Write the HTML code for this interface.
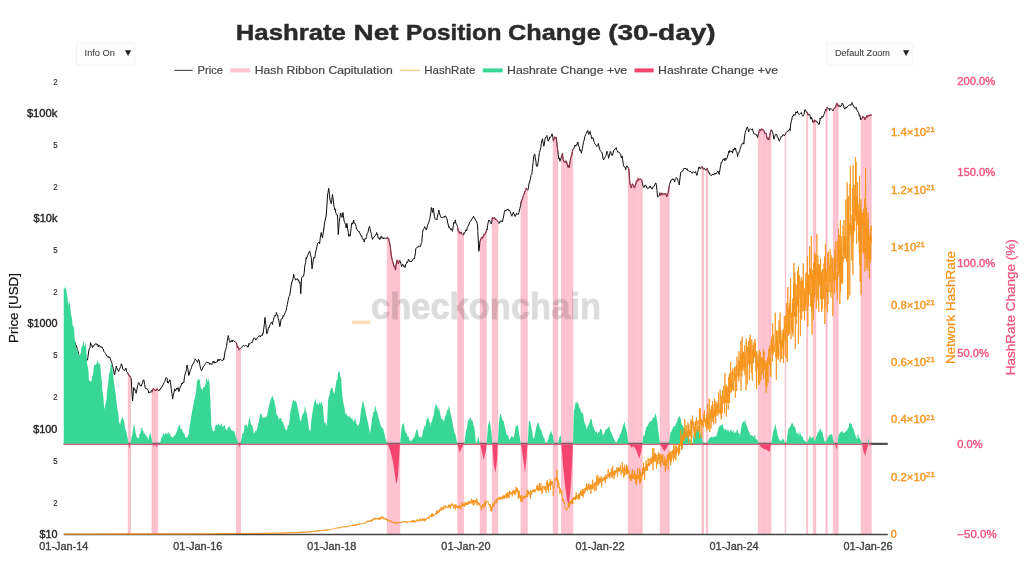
<!DOCTYPE html>
<html><head><meta charset="utf-8"><title>Hashrate Net Position Change (30-day)</title>
<style>html,body{margin:0;padding:0;background:#fff;width:1024px;height:580px;overflow:hidden}svg{display:block;will-change:transform}svg text{font-family:"Liberation Sans",sans-serif}</style></head>
<body>
<svg width="1024" height="580" viewBox="0 0 1024 580" font-family="Liberation Sans, sans-serif">
<rect width="1024" height="580" fill="#fff"/>
<g id="bands" fill="#fdc3d0" fill-opacity="1" stroke="#fbaec1" stroke-width="0.6">
<polygon points="128.25,373.75 128.75,375 130.5,377.62 130.5,534.4 128.25,534.4"/>
<polygon points="152,390.27 153.75,388.75 154.25,388.98 154.25,534.4 152,534.4"/>
<polygon points="154.75,389.2 157.75,390.55 157.75,534.4 154.75,534.4"/>
<polygon points="236.5,343.5 237.5,347.5 240,348.75 240.5,348.32 240.5,534.4 236.5,534.4"/>
<polygon points="387.25,238.75 388.75,238.75 390,245 391.25,255 392.5,261.25 394.25,266.25 395.5,270 397,260 398.25,263.75 399.5,260 399.75,260.64 399.75,534.4 387.25,534.4"/>
<polygon points="457.75,227.68 458.75,231.25 460.25,232.3 460.25,534.4 457.75,534.4"/>
<polygon points="460.75,232.65 461.25,233 463.5,234.8 463.5,534.4 460.75,534.4"/>
<polygon points="480.25,240.72 482,237 484.5,235 486.25,231.5 486.25,534.4 480.25,534.4"/>
<polygon points="492.25,218.64 492.5,218 495,218 496.25,220 497.75,221.5 497.75,534.4 492.25,534.4"/>
<polygon points="521,203.5 521.25,202.5 523.75,195 526.25,188 527.25,189.14 527.25,534.4 521,534.4"/>
<polygon points="553.25,140 554.5,138 554.75,137.93 554.75,534.4 553.25,534.4"/>
<polygon points="555.25,137.79 556.25,137.5 557.5,148.75 557.75,150.75 557.75,534.4 555.25,534.4"/>
<polygon points="561.5,156.6 562.5,155 563.75,161.25 566.25,161.25 567.5,165 569.25,167.5 570.75,157.5 572.5,151.25 572.75,150.72 572.75,534.4 561.5,534.4"/>
<polygon points="628.25,167.75 628.75,168.75 630,183.75 631.25,188 633,185 634.25,186.67 634.25,534.4 628.25,534.4"/>
<polygon points="634.75,186.18 636.25,181.25 638,180 640,178.75 642,181.25 642.25,182.14 642.25,534.4 634.75,534.4"/>
<polygon points="660.25,194.69 662.5,193.75 665,194.5 668,193.75 669.25,186.46 669.25,534.4 660.25,534.4"/>
<polygon points="702,167.53 703.5,168.57 703.5,534.4 702,534.4"/>
<polygon points="706.5,169.3 707.5,169.5 707.75,170.03 707.75,534.4 706.5,534.4"/>
<polygon points="758.25,134.69 759.5,130 761.25,129.5 763,130 764.25,132.34 764.25,534.4 758.25,534.4"/>
<polygon points="764.75,133.28 765,133.75 767,137.5 768.75,140 771,131 771,534.4 764.75,534.4"/>
<polygon points="785.25,133.93 785.5,133.75 785.75,133.44 785.75,534.4 785.25,534.4"/>
<polygon points="806.65,111.98 807.5,113 807.65,113.11 807.65,534.4 806.65,534.4"/>
<polygon points="813.35,121.92 814.5,120 815.75,120.89 815.75,534.4 813.35,534.4"/>
<polygon points="825.95,109.55 827.15,108.35 827.15,534.4 825.95,534.4"/>
<polygon points="833.25,110.12 835,107.5 837,104.5 838.15,105.16 838.15,534.4 833.25,534.4"/>
<polygon points="861.15,119.31 861.25,119.5 863,117.5 865,118.75 867,117 867.15,116.94 867.15,534.4 861.15,534.4"/>
<polygon points="867.65,116.72 868.75,116.25 870.75,114.5 871.25,115 871.25,534.4 867.65,534.4"/>
</g>
<g id="wm"><rect x="352" y="320.5" width="18.5" height="3.6" fill="#f7931a" fill-opacity="0.3"/><g opacity="0.135"><text x="371" y="318.8" font-size="36" font-weight="bold" fill="#000" stroke="#000" stroke-width="0.9" textLength="230" lengthAdjust="spacingAndGlyphs">checkonchain</text></g></g>
<polyline id="price" fill="none" stroke="#0a0a0a" stroke-width="1.0" stroke-linejoin="round" points="64.8,329.96 64.8,331 65.5,329.57 66,328 66.2,328.55 66.9,326.21 67.6,324.47 68,325 68.3,325.69 69,327.91 69.7,330.18 70,330 70.4,330.17 71.1,332.2 71.8,336 72,336 72.5,337.4 73.2,339.7 73.9,340.64 74,340 74.6,341.41 75,342.5 75.3,342.99 76,347.08 76.25,345.5 76.7,346.96 77.4,349.2 78.1,351.56 78.75,355 78.8,355.23 79.5,357.37 80,358.75 80.2,357.78 80.9,355.66 81.6,353.58 82,352 82.3,353.19 83,354.93 83.7,355.58 84,356 84.4,355.68 85.1,359.9 85.8,360.19 86,362 86.5,361.19 87.2,359.15 87.5,360 87.9,357.34 88.6,352 89,350 89.3,348.68 90,347.81 90.5,342.5 90.7,342.96 91.4,345.47 92.1,345.38 92.5,347.5 92.8,346.81 93.5,346.56 94.2,344.87 94.9,344.21 95,343.75 95.6,344.12 96.3,343.5 97,345.16 97.7,344.32 98.4,346.93 98.75,345.5 99.1,345.26 99.8,346.64 100.5,346.44 101.2,347.62 101.9,346.67 102.5,347.5 102.6,348.55 103.3,348.99 104,351.57 104.7,352.43 105.4,353.42 106.1,354.04 106.25,355 106.8,356.02 107.5,356.23 108.2,357.7 108.9,356.45 109.6,357.7 110,357.5 110.3,358.79 111,360.6 111.7,362.53 111.75,362.5 112.4,365.61 113.1,368.13 113.8,370.96 114.5,375 114.5,374.66 115.2,371.9 115.9,369.08 116.25,366 116.6,367.53 117.3,369 118,370.16 118.7,371.49 118.75,371 119.4,369.27 120.1,367.74 120.8,366.56 121.25,363.75 121.5,364.1 122.2,365.54 122.9,369.54 123.6,369.83 123.75,370 124.3,370.55 125,370.12 125.7,368.06 126.25,368.75 126.4,371.19 127.1,372.38 127.8,372.78 128.5,375.01 128.75,375 129.2,375.78 129.9,375.97 130.6,377.68 131.25,378.75 131.3,379.96 132,393.05 132.5,401 132.7,399.44 133.4,391.33 133.75,387.5 134.1,389.35 134.8,388.95 135.5,391.67 136.2,393.35 136.25,392.5 136.9,389.65 137.6,385.58 138.3,383.53 138.75,382.5 139,383.05 139.7,384.28 140.4,386.13 141.1,384.94 141.25,386 141.8,384.35 142.5,382.8 143.2,380.02 143.25,380 143.9,379.88 144.6,384.62 145.3,387.94 146,388.87 146.25,388.75 146.7,388.36 147.4,389.4 148.1,390.54 148.8,393.08 149.5,392.09 150,392 150.2,391.92 150.9,392.54 151.6,390.54 152.3,391.59 153,388.82 153.7,388.39 153.75,388.75 154.4,389.66 155.1,390.57 155.8,390.23 156.5,390.24 157.2,388.75 157.9,390.01 158.6,390.41 158.75,391 159.3,389.81 160,389.83 160.7,388.12 161.4,388.14 162.1,386.6 162.5,386 162.8,385.04 163.5,383.83 164.2,382.51 164.9,381.29 165.6,378.57 166.25,377.5 166.3,377.45 167,378.48 167.7,383.01 168,382.5 168.4,383.23 169.1,380.97 169.8,379.84 170,380 170.5,382.45 171.2,388.54 171.9,393.48 172.5,397.5 172.6,399.05 173.3,395.31 174,392.34 174.7,388.82 175,390 175.4,391.06 176.1,389.79 176.8,388.03 177.5,389.32 178.2,387.57 178.75,388.75 178.9,391.52 179.6,388.64 180.3,387.3 181,385.79 181.7,383.24 182.4,384.08 183.1,381.99 183.75,382.5 183.8,382.74 184.5,376.64 185.2,373.92 185.9,371.96 186.6,368.55 187,365 187.3,365.71 188,369.41 188.7,375.46 188.75,375 189.4,374.1 190.1,370.79 190.8,369.28 191.25,368.75 191.5,367.49 192.2,365.21 192.9,363.77 193.6,363.55 194.3,361.2 195,360.5 195,358.75 195.7,359.73 196.4,360.73 197.1,361.06 197.5,362.5 197.8,361.79 198.5,359.38 198.75,360 199.2,360.29 199.9,365.19 200.6,368.62 201.25,370 201.3,370.64 202,370.01 202.7,368.04 203.4,366.16 203.75,366.25 204.1,365.97 204.8,364.88 205.5,363.56 206.2,362.36 206.9,361.84 207.5,362.5 207.6,362.53 208.3,362.89 209,362.6 209.7,364.45 210.4,363.62 211.1,364.2 211.25,363.75 211.8,364.53 212.5,362.47 213.2,361.17 213.9,363.15 214.6,361.6 215,362 215.3,362.99 216,361.89 216.7,362.18 217.4,361.69 218.1,358.99 218.8,361.09 219.5,359.63 220,360 220.2,359.33 220.9,359.51 221.6,360.44 222.3,360.45 223,360.46 223.7,358.1 223.75,359.5 224.4,355.88 225.1,351 225.8,349.57 226.25,347.5 226.5,346.51 227.2,341.15 227.9,337.81 228.25,335.5 228.6,337.1 229.3,340.56 230,341.8 230,342.5 230.7,341.1 231.4,340.45 232.1,341.89 232.5,340 232.8,341.13 233.5,340.56 234.2,341.33 234.9,341.7 235.6,342.24 236.25,342.5 236.3,342.52 237,345.22 237.5,347.5 237.7,346.53 238.4,347.4 239.1,349.7 239.8,349.11 240,348.75 240.5,348.37 241.2,347.53 241.9,347.16 242.6,346.8 243.3,345.34 243.75,345.5 244,345.77 244.7,346.08 245.4,345.52 246.1,345.77 246.8,345.87 247.5,346.1 247.5,347 248.2,346.95 248.9,343.38 249.6,344.36 250.3,343.26 251,342.45 251.7,342.25 252.4,342.32 252.5,341.25 253.1,339.75 253.75,338 253.8,337.91 254.5,337.93 255.2,338.76 255.9,340.07 256.25,339.5 256.6,338.86 257.3,337.62 258,336.91 258.7,336.44 259.4,335.59 260,336.25 260.1,337.1 260.8,335.89 261.5,334.8 262.2,335.66 262.9,333.27 263,333.75 263.6,329.89 264.3,324.68 265,317.44 265,318.75 265.7,323.43 266.4,329.96 266.75,333.75 267.1,333.43 267.8,331.57 268.5,327.24 268.75,327.5 269.2,327.49 269.9,324.87 270.6,323.47 271.25,322.5 271.3,322.11 272,323.42 272.5,324.5 272.7,322.19 273.4,320.23 274.1,317.37 274.8,316.18 275,315 275.5,315.78 276.2,314.92 276.25,312.5 276.9,314.07 277.6,314.89 278,317.5 278.3,318.47 279,321.08 279.7,326.62 280,326.25 280.4,324.34 281.1,319.03 281.25,318.75 281.8,319 282.5,317.96 283.2,315.42 283.75,316.25 283.9,315.42 284.6,313.92 285.3,312.39 286,310.74 286.25,310 286.7,307.46 287.4,304.41 288.1,300.25 288.75,297.5 288.8,296.56 289.5,296.09 290,293 290.2,292.03 290.9,287.61 291.25,285 291.6,282.48 292,282.5 292.3,281.07 293,278.91 293.7,274.12 293.75,275 294.4,277.79 295.1,278.53 295.5,280 295.8,280.15 296.5,279.26 297.2,279.12 297.5,278.75 297.9,280.37 298.6,280.06 299.3,282.78 300,281.84 300,282.5 300.7,292.21 300.75,293.75 301.4,281.35 301.5,278.75 302.1,276.84 302.8,276.27 303.5,276.19 303.75,275 304.2,272.88 304.9,265.44 305.6,262.48 306.25,257.5 306.3,259.03 307,257.44 307.7,255.22 308,255 308.4,253.49 309.1,252 309.5,251.25 309.8,251.34 310.5,254.6 311.2,257.16 311.25,257.5 311.9,267.13 312,268.75 312.6,265.56 313.25,260 313.3,259.7 314,257.15 314.7,257.79 315,256.25 315.4,253.34 316.1,250.37 316.8,247.14 317.5,243.46 317.5,243.75 318.2,242.46 318.9,242.66 319.5,242.5 319.6,243.79 320.3,237.41 321,233.81 321.25,232.5 321.7,235.26 322.4,237.73 322.5,237.5 323.1,233.95 323.75,228.75 323.8,229.21 324.5,222.95 325.2,220.04 325.9,217.03 326.25,215 326.6,209.82 327.3,199.3 327.5,195 328,192.7 328.7,188.32 328.75,188.25 329.4,194.39 330,200 330.1,200.12 330.8,202.61 331.25,203.75 331.5,202.47 332.2,196.43 332.5,194.5 332.9,197.17 333.6,203.01 333.75,205 334.3,207.58 335,209.84 335,208.75 335.7,212.39 336.25,213.75 336.4,214.63 337.1,215.31 337.5,215 337.8,222.8 338.25,234.5 338.5,232.16 339.2,222.59 339.5,220 339.9,217.59 340.6,213.22 340.75,213 341.3,215.6 342,217.01 342,217.5 342.7,213.91 343,212.5 343.4,215.51 344.1,220.98 344.5,222.5 344.8,222.68 345.5,224.56 346.2,228.05 346.25,227.5 346.9,223.31 347,223.75 347.6,228.42 348.3,232.55 348.75,236.25 349,236.16 349.7,234.7 350,236.25 350.4,234 351.1,227.97 351.75,223.75 351.8,222.89 352.5,224.11 353.2,221.64 353.75,220 353.9,223.41 354.6,222.78 355.3,224.13 355.5,225 356,226.34 356.7,229.37 357.4,229.73 357.5,230 358.1,231.13 358.8,232.06 359.5,231.73 359.5,232.5 360.2,234.11 360.9,235.07 361.25,236.25 361.6,235.69 362.3,238.49 363,239.32 363,238.75 363.7,240.63 364.25,242 364.4,240.89 365.1,238.38 365.8,238.93 366.25,237.5 366.5,236.7 367.2,233.35 367.9,232.73 368,232.5 368.6,228.71 369.3,227.06 369.5,226.25 370,228.51 370.7,231.69 371.25,233.75 371.4,234.62 372.1,237.81 372.5,239.5 372.8,238.14 373.5,237.87 374.2,236.86 374.9,236.18 375,236.25 375.6,235.19 376.3,233.99 376.75,232.5 377,234.99 377.7,234.5 378,238 378.4,238.28 379.1,237.66 379.8,239.66 380.5,238.41 381.2,236.1 381.25,237.5 381.9,238.06 382.6,237.51 383.3,239.03 384,237.52 384.7,238.56 385,238.75 385.4,238.64 386.1,238.67 386.8,238.25 387.5,237.19 388.2,239.14 388.75,238.75 388.9,240.35 389.6,242.94 390,245 390.3,246.54 391,253.17 391.25,255 391.7,257.73 392.4,260.6 392.5,261.25 393.1,262.95 393.8,266.16 394.25,266.25 394.5,266.05 395.2,268.63 395.5,270 395.9,265.71 396.6,262.07 397,260 397.3,260.27 398,262.18 398.25,263.75 398.7,261.81 399.4,261.83 399.5,260 400.1,261.38 400.8,263.25 401.25,264.5 401.5,266.56 402.2,265.18 402.9,264.3 403.6,266.65 404.3,266.05 404.5,267 405,267.64 405.7,264.14 406.4,263.66 407.1,261.74 407.5,262.5 407.8,261.86 408.5,259.24 408.75,259.5 409.2,260.34 409.9,261.48 410,262 410.6,261 411.3,261.76 412,261.2 412.5,260 412.7,259.93 413.4,258.67 414.1,258.09 414.5,258.75 414.8,256.58 415.5,252.78 415.75,248.75 416.2,248.11 416.9,247.44 417.6,247.13 418,247.5 418.3,246.38 419,246.05 419.7,246.26 420,246.25 420.4,246.61 421.1,243.89 421.75,242.5 421.8,241.57 422.5,233.63 423,230 423.2,229.85 423.9,228.48 424.5,227.5 424.6,226.6 425.3,227.72 426,229.61 426.25,230 426.7,229.06 427.4,225.93 427.5,225 428.1,223.97 428.75,222.5 428.8,222.03 429.5,219.77 430,217.5 430.2,215.89 430.9,212.15 431.25,207.5 431.6,207.94 432.3,211.39 432.5,212.5 433,210.58 433.25,208 433.7,210.54 434.4,216.28 435,218.75 435.1,218.78 435.8,219.37 436.5,219.37 437,220 437.2,217.68 437.9,214.03 438.6,212.74 438.75,210 439.3,212.51 440,214.98 440.5,216.25 440.7,217.19 441.4,217.3 442.1,218.12 442.5,217.5 442.8,217.12 443.5,216.81 444.2,217.49 444.9,216 445,216.25 445.6,215.87 446.3,217.68 447,218.29 447,218.75 447.7,222.77 448.4,225.14 448.75,227.5 449.1,226.77 449.8,227.74 450.5,229.69 451.2,228.68 451.25,228.75 451.9,230.19 452.5,231.25 452.6,230.56 453.3,225.9 453.75,222.5 454,223.11 454.7,223.01 455.4,219.92 455.5,221.25 456.1,223.91 456.8,224.5 457,225 457.5,226.51 458.2,231.32 458.75,231.25 458.9,231.21 459.6,233.5 460.3,233.16 461,231.95 461.25,233 461.7,233.78 462.4,234.55 463.1,234.37 463.75,235 463.8,232.92 464.5,233.21 465.2,231.94 465.9,229.76 466.25,230 466.6,230.85 467.3,227.69 468,226.17 468.7,224.85 468.75,225 469.4,223.03 470.1,221.64 470.8,220.98 471.25,220 471.5,219.97 472.2,218.43 472.9,217.94 473.6,216 473.75,217 474.3,218.38 475,218.49 475.7,220.5 476.25,221.25 476.4,220.93 477.1,223.36 477.5,225 477.8,231.48 478.5,244.97 478.75,251.25 479.2,249.75 479.9,242.02 480,241.25 480.6,239.91 481.3,237.86 482,238.36 482,237 482.7,237.62 483.4,236.13 484.1,234.16 484.5,235 484.8,233.97 485.5,233.52 486.2,231.16 486.9,229.19 487,230 487.6,225.56 488.3,221.92 488.75,220 489,220.32 489.7,220.64 490.4,222.08 490.75,222.5 491.1,223.97 491.8,221.31 492.5,217.12 492.5,218 493.2,218.29 493.9,218.07 494.6,217.88 495,218 495.3,219.37 496,219.32 496.25,220 496.7,220.17 497.4,220.83 498.1,221.76 498.75,222.5 498.8,223.58 499.5,222.91 500.2,220.88 500.9,221.41 501.6,220.87 502.3,222.01 502.5,221.25 503,218.94 503.7,216.01 504.25,212.5 504.4,212.28 505.1,209.95 505.8,211.19 506.5,210.24 507,209.5 507.2,210.05 507.9,208.92 508.6,210.5 509.3,210.26 510,210.67 510,211.25 510.7,213.3 511.4,215.05 512,216.25 512.1,215.35 512.8,213.65 513.5,212 513.75,213.75 514.2,213.9 514.9,216.35 515.5,216.25 515.6,216.09 516.3,213.41 517,213.79 517.7,214.07 518.4,214.33 518.75,212.5 519.1,212.09 519.8,208.61 520.5,205.67 521.2,201.8 521.25,202.5 521.9,200.17 522.6,198.17 523.3,195.69 523.75,195 524,194.35 524.7,192.01 525.4,190.67 526.1,189.64 526.25,188 526.8,189.26 527.5,189.78 528,190 528.2,188.8 528.9,184.21 529.6,181.9 530,180 530.3,179.34 531,175.39 531.7,174.69 532,172.5 532.4,168.5 533.1,162.6 533.75,156.25 533.8,155.9 534.5,154.13 535,154.5 535.2,157.94 535.9,161.07 536.25,165 536.6,166.13 537.3,165.58 537.5,166.25 538,163.05 538.7,157.32 539.4,152.83 539.5,152.5 540.1,150.28 540.8,147.65 541.25,143.75 541.5,142.03 542.2,139.96 542.5,138.75 542.9,141.96 543.6,144.81 543.75,146.25 544.3,144.1 545,139.33 545.5,137.5 545.7,137.75 546.4,136.67 547,135.5 547.1,136.99 547.8,139.49 548.25,141.25 548.5,139.7 549.2,139.78 549.9,136.78 550,137.5 550.6,137.01 551.3,136.35 552,134.26 552,133.75 552.7,136.78 553.25,140 553.4,140.77 554.1,138.78 554.5,138 554.8,136.86 555.5,137.41 556.2,138.72 556.25,137.5 556.9,143.09 557.5,148.75 557.6,149.65 558.3,154.86 558.75,158.75 559,157.82 559.7,160.22 560,161.25 560.4,160.19 561.1,157.69 561.25,157 561.8,155.97 562.5,153.19 562.5,155 563.2,159.54 563.75,161.25 563.9,161.86 564.6,162.12 565.3,162.36 566,160.87 566.25,161.25 566.7,162.09 567.4,164.97 567.5,165 568.1,167.28 568.8,165.42 569.25,167.5 569.5,165.64 570.2,160.56 570.75,157.5 570.9,157.44 571.6,155.71 572.3,151.71 572.5,151.25 573,149.13 573.7,148.74 574.4,146.97 574.5,147 575.1,145 575.8,146.27 576.25,145 576.5,144.27 577.2,144.5 577.9,142 578,143 578.6,146.23 579.3,146.76 579.5,148.75 580,150.72 580.7,149.78 581.25,152.5 581.4,153.22 582.1,149.63 582.5,148.75 582.8,145.63 583.5,142.55 583.75,141.25 584.2,139.93 584.9,136.3 585.5,135 585.6,134.38 586.3,133.63 587,131.86 587,132 587.7,130.39 588.4,133.63 588.75,134.5 589.1,133.95 589.8,132.02 590,131.25 590.5,134.11 591.2,135.46 591.25,136.25 591.9,138.88 592.6,137.89 593,137.5 593.3,138.77 594,141.76 594.5,142.5 594.7,143.74 595.4,144.52 596.1,145.4 596.25,146.25 596.8,146.57 597.5,145.36 598,144.5 598.2,143.44 598.9,146.04 599.6,149.3 600,150 600.3,150.47 601,151.49 601.7,152.67 602,152.5 602.4,154.34 603.1,158.56 603.75,160 603.8,159.39 604.5,158.05 605.2,157.17 605.5,156.25 605.9,155.55 606.6,153.25 607,151.25 607.3,153.59 608,154.42 608.7,158.31 608.75,157.5 609.4,155.58 610.1,151.79 610.5,151.25 610.8,151.77 611.5,155.15 612.2,155.53 612.5,155.5 612.9,154 613.6,150.44 614.3,149.92 614.5,150 615,148.69 615.7,148.35 616.25,147.5 616.4,149.89 617.1,150.56 617.8,152.19 618,152.5 618.5,152.02 619.2,152.24 619.9,153.51 620,153.75 620.6,154.1 621.3,157.93 622,156.25 622,155.91 622.7,159.73 623.4,165.21 623.75,166.25 624.1,166.82 624.8,166.7 625.5,168.75 625.5,169.85 626.2,167.61 626.9,165.87 627.5,166.25 627.6,166.72 628.3,168.26 628.75,168.75 629,171.46 629.7,180.74 630,183.75 630.4,185.81 631.1,186.74 631.25,188 631.8,185.31 632.5,183.82 633,185 633.2,185.16 633.9,187.25 634.5,187 634.6,187.52 635.3,185.55 636,183.65 636.25,181.25 636.7,180.94 637.4,181.33 638,180 638.1,178.64 638.8,180.09 639.5,179.4 640,178.75 640.2,178.92 640.9,179.5 641.6,179.8 642,181.25 642.3,182.44 643,185.91 643.7,187.01 643.75,187.5 644.4,187.02 645.1,185.01 645.5,185 645.8,185.78 646.5,186.02 647.2,188.51 647.5,188.75 647.9,188.28 648.6,188.25 649.3,186.97 650,187 650,186 650.7,187 651.4,188.44 652.1,189.18 652.5,188 652.8,187.27 653.5,187.18 654.2,186.09 654.5,185 654.9,185.05 655.6,182.9 656.25,183.75 656.3,184.53 657,190.43 657.5,196.25 657.7,197.12 658.4,196.36 659.1,195.77 659.5,195 659.8,192.72 660.5,195.11 661.2,194.89 661.9,192.91 662.5,193.75 662.6,194.6 663.3,194.05 664,194.04 664.7,193.8 665,194.5 665.4,193.53 666.1,193.86 666.8,196.67 667.5,194.05 668,193.75 668.2,192.76 668.9,187.95 669.5,185 669.6,184.19 670.3,182.25 671,179.96 671.25,180 671.7,180.42 672.4,178.95 673,178.75 673.1,179.65 673.8,179.1 674.5,181.25 674.5,182.04 675.2,179.73 675.9,178.82 676.25,177.5 676.6,178.01 677.3,178.55 678,180.5 678,181.53 678.7,182.65 679.25,185 679.4,183.62 680.1,177.16 680.75,172.5 680.8,172.63 681.5,171.5 682.2,171.45 682.9,170.88 683,170.5 683.6,169.31 684.3,168 685,168.87 685.5,168 685.7,168.98 686.4,169.49 687.1,168.63 687.5,170 687.8,170.66 688.5,170.83 689.2,171.09 689.9,171.57 690,171.25 690.6,171.39 691.3,172.34 692,173.44 692.5,173 692.7,172.53 693.4,171.6 694.1,172.59 694.8,172.71 695,172.5 695.5,171.56 696.2,173.42 696.9,175.38 697,175 697.6,172.47 698.3,169.88 698.75,168 699,166.83 699.7,168.39 700.4,168.83 701.1,166.89 701.25,167 701.8,166.76 702.5,166.89 703.2,169.12 703.75,168.75 703.9,168.87 704.6,168.24 705.3,170.09 706,169.85 706.7,169.85 707.4,167.98 707.5,169.5 708.1,170.69 708.8,172.79 709.5,173.75 709.5,172.71 710.2,174.83 710.9,175.55 711.6,175.5 712.3,174.3 712.5,175 713,174 713.7,174.84 714.4,174.33 715,173 715.1,174.03 715.8,173.93 716.5,172.75 717.2,172.41 717.9,171.1 718.6,173.27 719.3,174.46 719.5,172.5 720,169.25 720.7,165.24 721.25,162.5 721.4,162.87 722.1,161.8 722.8,159.48 723.5,159.19 723.75,159.5 724.2,158.43 724.9,160.87 725.6,158.34 726.25,158.75 726.3,159.33 727,158.13 727.7,156.01 728.4,153.51 728.75,151.25 729.1,152.74 729.8,150.52 730.5,151.48 731.2,151.37 731.25,152 731.9,151.23 732.6,153.15 733.3,148.93 733.75,150 734,150.19 734.7,147.86 735.4,149.25 735.5,148 736.1,151.2 736.8,152.11 737.5,155 737.5,156.76 738.2,153.52 738.9,153.03 739.6,150.64 740,149.5 740.3,148.16 741,146.3 741.7,144.51 742,143.75 742.4,143.99 743.1,143.07 743.75,142.5 743.8,144.16 744.5,137.09 745,133.75 745.2,132.73 745.9,130.33 746.6,128.09 747,127.5 747.3,126.92 748,128.81 748.7,131.91 748.75,131.25 749.4,130.37 750.1,129.18 750.5,128.75 750.8,129.05 751.5,129.66 752.2,129.27 752.5,128.75 752.9,131.01 753.6,132.67 753.75,133.75 754.3,133.8 755,133.72 755.7,134.64 756.25,135 756.4,134.61 757.1,136.38 757.5,137.5 757.8,136.23 758.5,133.57 759.2,130.9 759.5,130 759.9,129.47 760.6,130.8 761.25,129.5 761.3,129.22 762,128.85 762.7,130.08 763,130 763.4,129.82 764.1,131.15 764.8,133.45 765,133.75 765.5,133.27 766.2,133.26 766.9,137.56 767,137.5 767.6,139.24 768.3,137.94 768.75,140 769,138.24 769.7,136.69 770.4,131.71 771.1,129.86 771.25,130 771.8,130.08 772.5,132.5 772.5,132.33 773.2,134.32 773.75,138.75 773.9,139.15 774.6,136.56 775.3,135.24 775.5,134.5 776,134.97 776.7,134.5 777.4,137.22 777.5,137.5 778.1,137.49 778.8,139.95 779.5,141.25 779.5,140.53 780.2,138.98 780.9,137.07 781.25,136.25 781.6,136.73 782.3,136.38 783,134.52 783.7,135.01 783.75,135 784.4,135.78 785.1,134.46 785.5,133.75 785.8,132.76 786.5,132.4 787.2,131.33 787.5,131.25 787.9,131.65 788.6,130.18 789.3,129.77 790,128.75 790,130.63 790.7,124.08 791.4,120.89 791.75,120 792.1,117.57 792.8,115.76 793.5,115.92 793.75,114.5 794.2,114.56 794.9,115.39 795.5,113.75 795.6,111.95 796.3,112 797,113.1 797.5,111.25 797.7,112.45 798.4,113.46 799.1,114.59 799.5,114.5 799.8,114.18 800.5,113.35 801.2,112.58 801.25,112.5 801.9,114.61 802.6,115.25 803,116.25 803.3,115.59 804,114.36 804.7,109.98 805,110 805.4,109.84 806.1,111.8 806.8,111.94 807.5,113 807.5,112.87 808.2,115.31 808.9,114.4 809.5,114.5 809.6,114.32 810.3,116.8 811,119.21 811.25,117.5 811.7,117.84 812.4,120.22 813,122.5 813.1,122.43 813.8,120.63 814.5,120 814.5,121.85 815.2,120.95 815.9,120.66 816.25,121.25 816.6,122.12 817.3,121.94 818,123.01 818.7,124.52 818.75,124.5 819.4,124.19 820,120 820.1,117.9 820.8,118.86 821.5,118.34 822,116.25 822.2,116.74 822.9,117.24 823.6,115.49 823.75,115 824.3,113.55 825,111.32 825.5,110 825.7,109.07 826.4,110.49 827.1,107.39 827.5,108 827.8,108.27 828.5,108.8 829.2,109.46 829.5,110.5 829.9,108.21 830.6,109.08 831.25,108.75 831.3,108.92 832,109.62 832.7,110.92 833,110.5 833.4,109.76 834.1,108.3 834.8,108.06 835,107.5 835.5,107.32 836.2,104.93 836.9,103.36 837,104.5 837.6,103.97 838.3,106.14 838.75,105.5 839,106.56 839.7,105.56 840.4,107.01 840.5,107 841.1,106.11 841.8,104.66 842,103 842.5,103.37 843.2,105.02 843.75,106.25 843.9,107.55 844.6,108.89 845.3,108.64 846,106.86 846.25,108 846.7,107.93 847.4,106.6 848,106.25 848.1,106.14 848.8,105.19 849.5,104.9 850,105 850.2,104.74 850.9,105.41 851.6,103.59 852,102.5 852.3,103.63 853,105.09 853.7,106.23 853.75,107 854.4,106.94 855.1,108.32 855.8,108.12 856.25,107.5 856.5,109.81 857.2,110.16 857.9,111.73 858,112 858.6,112.32 859.3,116.02 859.5,116.25 860,115.71 860.7,119.78 861.25,119.5 861.4,118.79 862.1,118.53 862.8,116.58 863,117.5 863.5,117.39 864.2,117.46 864.9,119.65 865,118.75 865.6,118.44 866.3,116.61 867,117 867,115.36 867.7,116.64 868.4,115.99 868.75,116.25 869.1,115 869.8,115.83 870.5,114.56 870.75,114.5 871.2,115.04 871.75,115.5"/>
<g fill="none" stroke="#e8476f" stroke-opacity="0.5" stroke-width="1.3">
<polyline points="128,373.42 128.5,375.01 128.75,375 129.2,375.78 129.9,375.97 130.6,377.68 130.75,377.93"/>
<polyline points="151.75,390.77 152.3,391.59 153,388.82 153.7,388.39 153.75,388.75 154.4,389.66 154.5,389.79"/>
<polyline points="154.5,389.79 155.1,390.57 155.8,390.23 156.5,390.24 157.2,388.75 157.9,390.01 158,390.07"/>
<polyline points="236.25,342.5 236.3,342.52 237,345.22 237.5,347.5 237.7,346.53 238.4,347.4 239.1,349.7 239.8,349.11 240,348.75 240.5,348.37 240.75,348.07"/>
<polyline points="387,237.95 387.5,237.19 388.2,239.14 388.75,238.75 388.9,240.35 389.6,242.94 390,245 390.3,246.54 391,253.17 391.25,255 391.7,257.73 392.4,260.6 392.5,261.25 393.1,262.95 393.8,266.16 394.25,266.25 394.5,266.05 395.2,268.63 395.5,270 395.9,265.71 396.6,262.07 397,260 397.3,260.27 398,262.18 398.25,263.75 398.7,261.81 399.4,261.83 399.5,260 400,261.15"/>
<polyline points="457.5,226.51 458.2,231.32 458.75,231.25 458.9,231.21 459.6,233.5 460.3,233.16 460.5,232.81"/>
<polyline points="460.5,232.81 461,231.95 461.25,233 461.7,233.78 462.4,234.55 463.1,234.37 463.75,235"/>
<polyline points="480,241.25 480.6,239.91 481.3,237.86 482,238.36 482,237 482.7,237.62 483.4,236.13 484.1,234.16 484.5,235 484.8,233.97 485.5,233.52 486.2,231.16 486.5,230.32"/>
<polyline points="492,220.11 492.5,217.12 492.5,218 493.2,218.29 493.9,218.07 494.6,217.88 495,218 495.3,219.37 496,219.32 496.25,220 496.7,220.17 497.4,220.83 498,221.63"/>
<polyline points="520.75,204.29 521.2,201.8 521.25,202.5 521.9,200.17 522.6,198.17 523.3,195.69 523.75,195 524,194.35 524.7,192.01 525.4,190.67 526.1,189.64 526.25,188 526.8,189.26 527.5,189.78 527.5,189.78"/>
<polyline points="553,138.54 553.25,140 553.4,140.77 554.1,138.78 554.5,138 554.8,136.86 555,137.02"/>
<polyline points="555,137.02 555.5,137.41 556.2,138.72 556.25,137.5 556.9,143.09 557.5,148.75 557.6,149.65 558,152.63"/>
<polyline points="561.25,157 561.8,155.97 562.5,153.19 562.5,155 563.2,159.54 563.75,161.25 563.9,161.86 564.6,162.12 565.3,162.36 566,160.87 566.25,161.25 566.7,162.09 567.4,164.97 567.5,165 568.1,167.28 568.8,165.42 569.25,167.5 569.5,165.64 570.2,160.56 570.75,157.5 570.9,157.44 571.6,155.71 572.3,151.71 572.5,151.25 573,149.13 573,149.13"/>
<polyline points="628,167.6 628.3,168.26 628.75,168.75 629,171.46 629.7,180.74 630,183.75 630.4,185.81 631.1,186.74 631.25,188 631.8,185.31 632.5,183.82 633,185 633.2,185.16 633.9,187.25 634.5,187"/>
<polyline points="634.5,187 634.6,187.52 635.3,185.55 636,183.65 636.25,181.25 636.7,180.94 637.4,181.33 638,180 638.1,178.64 638.8,180.09 639.5,179.4 640,178.75 640.2,178.92 640.9,179.5 641.6,179.8 642,181.25 642.3,182.44 642.5,183.43"/>
<polyline points="660,193.4 660.5,195.11 661.2,194.89 661.9,192.91 662.5,193.75 662.6,194.6 663.3,194.05 664,194.04 664.7,193.8 665,194.5 665.4,193.53 666.1,193.86 666.8,196.67 667.5,194.05 668,193.75 668.2,192.76 668.9,187.95 669.5,185"/>
<polyline points="701.75,166.78 701.8,166.76 702.5,166.89 703.2,169.12 703.75,168.75"/>
<polyline points="706.25,169.85 706.7,169.85 707.4,167.98 707.5,169.5 708,170.49"/>
<polyline points="758,135.47 758.5,133.57 759.2,130.9 759.5,130 759.9,129.47 760.6,130.8 761.25,129.5 761.3,129.22 762,128.85 762.7,130.08 763,130 763.4,129.82 764.1,131.15 764.5,132.46"/>
<polyline points="764.5,132.46 764.8,133.45 765,133.75 765.5,133.27 766.2,133.26 766.9,137.56 767,137.5 767.6,139.24 768.3,137.94 768.75,140 769,138.24 769.7,136.69 770.4,131.71 771.1,129.86 771.25,130"/>
<polyline points="785,134.64 785.1,134.46 785.5,133.75 785.8,132.76 786,132.65"/>
<polyline points="806.4,111.86 806.8,111.94 807.5,113 807.5,112.87 807.9,114.26"/>
<polyline points="813.1,122.43 813.1,122.43 813.8,120.63 814.5,120 814.5,121.85 815.2,120.95 815.9,120.66 816,120.83"/>
<polyline points="825.7,109.07 825.7,109.07 826.4,110.49 827.1,107.39 827.4,107.85"/>
<polyline points="833,110.5 833.4,109.76 834.1,108.3 834.8,108.06 835,107.5 835.5,107.32 836.2,104.93 836.9,103.36 837,104.5 837.6,103.97 838.3,106.14 838.4,106"/>
<polyline points="860.9,119.68 861.25,119.5 861.4,118.79 862.1,118.53 862.8,116.58 863,117.5 863.5,117.39 864.2,117.46 864.9,119.65 865,118.75 865.6,118.44 866.3,116.61 867,117 867,115.36 867.4,116.09"/>
<polyline points="867.4,116.09 867.7,116.64 868.4,115.99 868.75,116.25 869.1,115 869.8,115.83 870.5,114.56 870.75,114.5 871.2,115.04 871.5,115.29"/>
</g>
<line x1="63.75" x2="887.8" y1="443.9" y2="443.9" stroke="#505050" stroke-width="2.1"/>
<polygon id="pos" fill="#39d796" points="63.75,444.2 63.75,287.5 63.75,287.67 64.65,288.98 65.5,286 65.55,287.1 66.45,291.23 67,295 67.35,296.81 68.25,305.28 69,302 69.15,299.91 70,305 70.05,305.78 70.95,314.08 71.5,317 71.85,317.25 72.75,326.46 73,325 73.65,327.49 74,327 74.55,337.69 75,340 75.45,342.95 76.35,348.81 77,350 77.25,348.73 78.15,353.83 79.05,353.89 79.5,357 79.95,356 80.85,352.16 81.75,345.67 82,347 82.65,345.39 83.5,341 83.55,339.99 84.45,346.85 84.5,346 85.35,344.85 85.5,342 86.25,349.46 87,360 87.15,363.88 88.05,368.25 88.5,372 88.95,379.86 89.5,381 89.85,380.51 90.5,382 90.75,381.8 91.65,380.69 92,376 92.55,376.5 93.45,371.22 94,366 94.35,364.78 95.25,365.3 96,364 96.15,364.15 97.05,362.77 97.95,359.27 98,361 98.85,364.67 99.75,363.62 100,362 100.65,368.82 101,375 101.55,378.48 102.45,392.14 102.5,390 103.35,396.98 104,405 104.25,409.01 105,407.5 105.15,404.95 106.05,402 106.5,399 106.95,392.74 107.85,385.55 108,385 108.75,376.17 109.5,372.5 109.65,372.7 110.55,367.66 111,362.5 111.45,363.14 112,366 112.35,368.48 113,374 113.25,375.66 114.15,384.7 114.5,385 115.05,390.44 115.95,395.61 116,397.5 116.85,404.2 117.5,410 117.75,410.49 118.65,416.62 119,422.5 119.55,422.97 120,425 120.45,422.78 121.35,418.96 122.25,418.2 122.5,416 123.15,418.21 124,421 124.05,421.03 124.95,426.86 125,427.5 125.85,431.1 126.5,432.5 126.75,434.21 127.65,438.25 128,440 128.5,443.75 128.55,444.2 129,444.2 129.45,444.2 130.35,444.2 130.5,443.75 131.25,438.37 132,435 132.15,435.98 133.05,429.61 133.95,425.01 134,423.75 134.85,427.79 135.5,432.5 135.75,433.52 136.65,436.82 137.5,438.75 137.55,436.81 138.45,438.5 139,437.5 139.35,434.64 140.25,433.15 141.15,429.61 141.5,427.5 142.05,427.76 142.95,431.03 143.5,431 143.85,433.89 144.75,432.69 145.65,435.62 146,435 146.55,435.73 147.45,437.49 148.35,440.26 148.5,438.75 149.25,435.51 150.15,433.48 150.5,432.5 151.05,436.59 151.95,439.75 152.5,442.5 152.85,443.38 153,443.75 153.75,444.2 153.75,444.2 154.65,444.2 155,444 155.55,444.2 156.45,444.2 156.5,444.2 157.35,444.2 158,443.75 158.25,443.75 159.15,443.75 160,443.75 160.05,443.54 160.95,439.79 161.5,437.5 161.85,437.05 162.75,436.08 163,433 163.65,433.8 164.55,435.21 165.45,432.86 166.35,434.07 167,433.75 167.25,434.52 168.15,431.19 169.05,434.61 169.95,432.98 170,433 170.85,437.11 171.75,436.51 172,437.5 172.65,437.26 173.55,436.49 174,435 174.45,436.45 175.35,434.22 176,433.75 176.25,432.84 177.15,431.04 178,427.5 178.05,427.76 178.95,425.58 179.85,424.5 180,426 180.75,429.52 181.65,429.08 182.5,430 182.55,431.3 183.45,432.97 184.35,433.49 185,436 185.25,437.45 186.15,437.21 187,437.5 187.05,438.31 187.95,435.59 188.5,435 188.85,432.98 189.75,425 190,425 190.65,419.74 191.55,414.68 192.45,409.26 192.5,410 193.35,405.31 194.25,399.74 195,397.5 195.15,396.51 196.05,391.6 196.95,380.69 197.5,380 197.85,380.94 198.75,377.5 198.75,380.04 199.65,379.24 200,382.5 200.55,386.4 201.45,389 202.35,390.2 202.5,390 203.25,386.69 204.15,387.86 204.5,387.5 205.05,386.12 205.95,382.46 206.25,378.75 206.85,378.54 207.75,382.38 208,377.5 208.65,380.17 209.5,382.5 209.55,385.81 210.45,400.75 210.5,405 211.25,422.5 211.35,425.18 212.25,428.96 212.5,430 213.15,431.84 214.05,430.93 214.5,431 214.95,427.17 215.85,424.71 216,425 216.75,424.53 217.65,425.68 218,423.75 218.55,423.26 219.45,425.57 220,425 220.35,425.79 221.25,424.07 221.5,423 222.15,424.94 223,427.5 223.05,426.76 223.95,426.12 224.85,424.81 225,426 225.75,429.28 226.65,429.73 227,431 227.55,428.37 228.45,427.23 229,426 229.35,426.39 230.25,428.51 231,428.75 231.15,429.09 232.05,431.48 232.95,430.17 233.5,431 233.85,430.56 234.75,433.07 235.5,435 235.65,436.22 236.55,438.62 237.45,440.85 237.5,441 238.35,443.34 238.5,443.75 239.25,444.2 239.5,444.2 240.15,444.2 240.5,443.75 241.05,440.66 241.95,436.51 242.5,432.5 242.85,433.81 243.75,432.21 244.65,424.9 245.5,425 245.55,425.53 246.45,424.27 247.35,427.54 247.5,427.5 248.25,423.9 249.15,417.04 249.5,418.75 250.05,420.32 250.95,424.36 251.85,425.18 252,425 252.75,427.51 253.65,432.76 253.75,432.5 254.55,433.35 255.45,430.73 256.25,430 256.35,432.04 257.25,428.19 258.15,423.78 258.75,422.5 259.05,419.66 259.95,415.69 260,415 260.85,412.71 261.25,413.75 261.75,415.36 262.65,417.82 263.55,416.73 263.75,418.75 264.45,417.73 265.35,416.59 266.25,416.25 266.25,418.85 267.15,414.96 268.05,410 268.75,407.5 268.95,405.49 269.85,403.5 270,402.5 270.75,399.51 271.65,397.21 272.5,396.25 272.55,394.71 273.45,399.12 274.35,400.52 275,405 275.25,405.51 276.15,411.52 276.25,413.75 277.05,414.8 277.5,416 277.95,415.87 278.75,420 278.85,419.63 279.75,417.79 280.65,417.97 281.25,418.75 281.55,420.51 282.45,421.79 283.35,422.45 283.75,425 284.25,425.88 285.15,428.74 286.05,429.64 286.25,430 286.95,430.62 287.85,425.57 288.75,425 288.75,425.87 289.65,419.24 290.55,410.22 291.25,408 291.45,407.78 292.35,402.15 293.25,399.45 293.75,400 294.15,401.65 295.05,400.59 295.95,401.74 296.25,402.5 296.85,402.62 297,405 297.75,407.9 298.65,412.14 298.75,412.5 299.55,416.98 300,420 300.45,421.2 301.25,420 301.35,419.35 302.25,415.09 303.15,412.51 303.75,413.75 304.05,412.9 304.95,405.03 305,406 305.85,411.99 306.25,411.25 306.75,413.78 307,415 307.65,418.23 308.55,425.87 308.75,427.5 309.45,430.25 310.35,431.01 310.5,431 311.25,421.01 312.15,415.02 312.5,412 313.05,408.59 313.95,403.55 314.85,400.53 315,398 315.75,400.62 316.65,404.75 317.5,403.75 317.55,402.08 318.45,405.58 319.35,402.15 320,403 320.25,404.5 321.15,401.18 322.05,403.22 322.5,406 322.95,406.49 323.85,417.96 324.5,422.5 324.75,423.99 325.65,422.06 326.55,425.39 327,425 327.45,414.71 328,402 328.35,398.8 329.25,395.78 330,392.5 330.15,390.68 331.05,387.88 331.95,387.93 332.5,387.5 332.85,389.74 333.75,392.82 334.5,393.75 334.65,393.57 335.55,386.5 336.25,382.5 336.45,380.3 337.35,379.91 338.25,371.47 338.75,372.5 339.15,373.24 340,370 340.05,375.01 340.95,378.01 341.25,380 341.85,389.59 342.5,397.5 342.75,398.53 343.65,404 344.55,408.27 345,412 345.45,413.72 346.35,413.51 347.25,416.05 348.15,415.48 348.75,417.5 349.05,416.96 349.95,415.83 350.85,418.62 351.75,418.6 352.5,418.75 352.65,419.82 353.55,422.09 354.45,420.3 355,418.75 355.35,418.25 356.25,422.88 357.15,424.81 357.5,426 358.05,425.95 358.95,424.28 359.5,422.5 359.85,420.42 360.75,412.13 361.25,408.5 361.65,407.78 362.55,401.49 363,401.25 363.45,401.96 364.35,406.68 365,408.5 365.25,409.65 366.15,415.07 367.05,418.44 367.5,421 367.95,422.1 368.85,427.82 369.75,432.24 370,433.75 370.65,429.29 371.55,423.17 372.45,416.14 372.5,417.5 373.35,411.76 374.25,411.97 375,407 375.15,405.36 375.5,406.25 376.05,409.4 376.95,411.82 377.5,413 377.85,414.83 378.75,418.34 379.65,422.29 380,423 380.55,424.39 381.45,426.97 382.35,428.08 383.25,428.81 383.75,431 384.15,432.15 385.05,436.52 385.95,439.8 386,440 386.85,442.45 387.3,443.75 387.75,444.2 388.5,444.2 388.65,444.2 389.55,444.2 390,444.2 390.45,444.2 391.35,444.2 392,444.2 392.25,444.2 393.15,444.2 393.5,444.2 394.05,444.2 394.95,444.2 395,444.2 395.85,444.2 396.25,444.2 396.75,444.2 397.2,444.2 397.65,444.2 398,444.2 398.55,444.2 399,444.2 399.45,444.2 399.8,444.2 400,443.75 400.35,440.47 401.25,430.66 402,425 402.15,424.41 403.05,424.61 403.75,422.5 403.95,423.82 404.85,429.85 405.75,432.26 406.25,433.75 406.65,433 407.55,436.4 408.45,436.33 408.75,437.5 409.35,439.89 410.25,440.88 411.15,440.86 411.25,441 412.05,439.88 412.95,438.98 413.75,437.5 413.85,438.52 414.75,435.71 415.65,432.86 416.55,429.85 417,428.75 417.45,429.41 418.35,434.57 418.75,436 419.25,437.29 420.15,436.43 421.05,437.57 421.25,437.5 421.95,437.01 422.85,431.93 423.75,427.95 423.75,430 424.65,425.2 425.55,426.53 426.45,420.12 427.35,418.2 427.5,417.5 428.25,418.07 429.15,420.85 430,423.75 430.05,427.2 430.95,421.43 431.85,422.4 432.5,418.75 432.75,417.52 433.65,415.57 434.55,409.37 435.45,405.76 436.25,403.75 436.35,404.65 437.25,405.64 438.15,410.59 438.75,407.5 439.05,408.11 439.95,412.93 440,412.5 440.85,417.72 441.25,418.75 441.75,418.22 442.65,420.25 443.55,419.17 443.75,422 444.45,420.31 445.35,414.92 446.25,416.21 446.25,413.75 447.15,409.77 448.05,410.38 448.95,405.12 449.5,408 449.85,410.52 450.75,414.29 451.65,418.5 452,420 452.55,423.14 453.45,427.73 454.35,432.13 454.5,432.5 455.25,433.85 456.15,438 457,442.5 457.05,442.62 457.5,443.75 457.95,444.2 458.85,444.2 459.5,444.2 459.75,444.2 460.65,444.2 461.55,444.2 462,444.2 462.45,444.2 463.35,444.2 463.75,443.75 464.25,442.92 464.5,442.5 465.15,436.7 466.05,431.44 466.25,430 466.95,427.85 467.85,421.26 468.75,419.87 468.75,420 469.65,418.7 470.5,417.25 470.55,417.57 471.45,420.45 472.35,420.34 473,422.5 473.25,424.41 474.15,426.77 475,432.5 475.05,433.4 475.95,443.19 476,443.75 476.25,444.2 476.75,443.75 476.85,443.13 477.75,438.15 478,436 478.65,437.78 479.5,442.5 479.55,442.62 480,443.75 480.45,444.2 481.25,444.2 481.35,444.2 482.25,444.2 483.15,444.2 483.75,444.2 484.05,444.2 484.95,444.2 485.5,444.2 485.85,444.2 486.75,443.75 486.75,443.75 487.65,429.9 488,425 488.55,424.07 489.45,420.06 489.5,421.25 490.35,424.91 491.25,431.3 491.25,430 492.15,442.37 492.25,443.75 493.05,444.2 493.75,444.2 493.95,444.2 494.85,444.2 495.5,444.2 495.75,444.2 496.65,444.2 497,444.2 497.55,444.2 497.75,443.75 498.45,431.88 498.75,425 499.35,418.63 500.25,413.88 500.5,413.75 501.15,415.31 502.05,419.11 502.5,420 502.95,421.04 503.85,421.43 504.75,426.51 505,427.5 505.65,430.34 506.55,434.56 507.45,435.31 507.5,435 508.35,436.3 509.25,440.24 509.5,440 510.15,438.29 511.05,437.24 511.25,436.25 511.95,435.74 512.85,437.19 513.75,437.92 513.75,437.5 514.65,433.2 515.5,427.5 515.55,424.77 516.45,426.76 517.35,425.08 517.5,425 518.25,427.15 519.15,434.66 519.5,435 520.05,439.64 520.95,443.46 521,443.75 521.85,444.2 522.75,444.2 523,444.2 523.65,444.2 524.55,444.2 525,444.2 525.45,444.2 526.35,444.2 526.5,444.2 527.25,444.2 527.5,443.75 528.15,435.27 528.75,423.75 529.05,420.46 529.95,421.29 530.5,422.5 530.85,424.61 531.75,429.43 532.5,432.5 532.65,435.98 533.55,438.57 533.75,438.75 534.45,436.45 535.35,432.26 536.25,427.04 536.25,427.5 537.15,424.79 538,421.25 538.05,422.14 538.95,424.59 539.85,427.93 540,427.5 540.75,429.64 541.65,430.69 542.5,435 542.55,434.34 543.45,437.35 544.35,437.79 545,441.25 545.25,441.87 546,443.75 546.15,444.2 546.25,444.2 546.75,443.75 547.05,442.81 547.95,440 548.75,437.5 548.85,436.07 549.75,434.22 550.65,432.27 551.25,430 551.55,432.33 552.45,434.67 553,435 553.35,439.55 554.25,442.29 554.5,443.75 555,444.2 555.15,444.2 556,443.75 556.05,443.75 556.95,443.75 557.85,443.75 558,443.75 558.75,440 559.5,436.25 559.65,437.95 560.55,436.11 561,435 561.25,443.75 561.45,444.2 562.35,444.2 563,444.2 563.25,444.2 564.15,444.2 565,444.2 565.05,444.2 565.95,444.2 566.85,444.2 567,444.2 567.75,444.2 568.65,444.2 568.75,444.2 569.55,444.2 570.45,444.2 570.5,444.2 571.35,444.2 572,444.2 572.25,444.2 573,443.75 573.15,439.28 573.75,412.5 574.05,410.29 574.95,407.86 575.5,402.5 575.85,402.03 576.75,402.82 577,401 577.65,403.71 578.55,403.77 578.75,405 579.45,408.53 580.35,408.37 580.5,410 581.25,412.41 582.15,413.76 582.5,412.5 583.05,413.31 583.95,419.67 584.5,422.5 584.85,424.01 585.75,424.68 586.65,429.32 587,428.75 587.55,425.92 588.45,425.13 589.25,422.5 589.35,423.79 590.25,419.87 591.15,419 591.25,417.5 592.05,421.49 592.95,427.03 593,425 593.85,428.51 594.75,429.93 595,431.25 595.65,432.49 596.55,430.74 597.45,434.65 597.5,433.75 598.35,432.05 599.25,432.42 600,430 600.15,428.93 601.05,428.69 601.95,430.7 602.5,435 602.85,435.76 603.75,433.69 604.65,433.12 605,432.5 605.55,429.57 606.45,429.19 607.35,428.9 607.5,427.5 608.25,427.75 609.15,425.33 609.25,426.25 610.05,429.68 610.95,432.35 611.25,432.5 611.85,433.56 612.75,436.17 613.65,438.6 613.75,438.75 614.55,440.11 615.45,441.64 616.25,443 616.35,442.78 617.25,440.8 618.15,438.66 618.75,437.5 619.05,437.96 619.95,433.98 620.85,434.01 621.25,432.5 621.75,430.54 622.65,427.03 623,426.25 623.55,424.53 624.45,421.39 624.5,421.25 625.35,427.3 626.25,428.66 626.25,430 627.15,433.16 628,440 628.05,440.37 628.5,443.75 628.95,444.2 629.85,444.2 630.75,444.2 631.25,444.2 631.65,444.2 632.55,444.2 633.45,444.2 633.75,444.2 634.35,444.2 635.25,444.2 636.15,444.2 636.25,444.2 637.05,444.2 637.95,444.2 638.85,444.2 639.25,444.2 639.75,444.2 640.65,444.2 641.25,444.2 641.55,444.2 642.25,443.75 642.45,442.58 643.35,436.22 643.75,435 644.25,436.57 645.15,431.67 646.05,427.65 646.25,427.5 646.95,426.22 647.85,426.05 648.75,422.54 648.75,423.75 649.65,422.04 650.55,420.64 651.25,421.25 651.45,421.5 652.35,419.19 653.25,416.88 653.75,417.5 654.15,418.54 655.05,414.44 655.75,413.75 655.95,413.84 656.85,420.15 657.5,422.5 657.75,427.02 658.65,433.09 659.5,440 659.55,440.37 660,443.75 660.45,444.2 661.35,444.2 662,444.2 662.25,444.2 663.15,444.2 664.05,444.2 664.5,444.2 664.95,444.2 665.85,444.2 666.75,444.2 667,444.2 667.65,444.2 668.55,444.18 668.75,443.75 669.45,439.05 670.35,433.38 670.5,432.5 671.25,431.72 672.15,429.83 673,427.5 673.05,425.63 673.95,426.95 674.85,426.48 675.5,425 675.75,424.05 676.65,422.64 677.5,420 677.55,419.02 678.45,417.83 679.35,415.66 679.5,416.25 680.25,417.36 681.15,420.91 681.25,422.5 682.05,425.05 682.95,425.51 683.75,427.5 683.85,427.79 684.75,427.45 685.65,430.44 686.25,431.25 686.55,431.38 687.45,432.32 688.35,432.33 688.75,435 689.25,439.45 690.15,439 691.05,441.9 691.25,442.5 691.95,443.67 692,443.75 692.5,444.2 692.85,444.2 693,443.75 693.2,437.5 693.75,434.61 694.65,433.55 695,431.25 695.55,431.75 696.45,427.99 697.35,429.03 697.5,429.5 698.25,428.52 699.15,431.34 700,432.5 700.05,431.76 700.95,435.52 701.85,435.92 702.5,441.25 702.75,441.87 703.5,443.75 703.65,444.2 703.75,444.2 704.25,443.75 704.55,443.45 705,443 705.45,443.17 706.35,443.51 707,443.75 707.25,444.2 707.5,444.2 707.9,443.75 708,441.25 708.15,440.97 709.05,438.47 709.95,437.55 710,437.5 710.85,437.48 711.75,436.42 712.5,437 712.65,438.02 713.55,436.76 714.45,436.07 715,437.5 715.35,436.06 716.25,436.61 717.15,433.58 717.5,432.5 718.05,429.64 718.95,427.18 719.5,426.25 719.85,425.84 720.75,425.7 721.25,423.75 721.65,425.45 722.55,423.88 723.45,428.03 723.75,428.75 724.35,429.6 725.25,429.29 726.15,429.12 726.25,430 727.05,430.76 727.95,429.61 728.75,431.25 728.85,430.58 729.75,432.59 730.65,429.73 731.25,429.5 731.55,431.34 732.45,431.98 733.35,429.04 733.75,432.5 734.25,433.04 735.15,432.58 736,431.25 736.05,432.68 736.95,428.83 737.5,430 737.85,432.55 738.75,432.67 739.65,434.3 740,436.25 740.55,431.79 741.45,426.11 742.35,422.78 742.5,422.5 743.25,420.93 744.15,422.89 745,419.5 745.05,418.93 745.95,424.08 746.85,425.84 747.5,427.5 747.75,428.45 748.65,431.6 749.55,431.77 750,435 750.45,435.32 751.35,435.24 752.25,435.36 753.15,437.17 753.75,436.25 754.05,436.65 754.95,434.14 755.85,439.28 756.75,439.23 757.5,440 757.65,440.56 758.5,443.75 758.55,443.81 759.45,444.2 760.35,444.2 761,444.2 761.25,444.2 762.15,444.2 763.05,444.2 763.95,444.2 764,444.2 764.85,444.2 765.75,444.2 766.65,444.2 767,444.2 767.55,444.2 768.45,444.2 769.35,444.2 769.5,444.2 770.25,444.2 770.5,444.2 771.15,444.18 771.25,443.75 772.05,438.54 772.95,432.96 773,432.5 773.85,429.79 774.75,426.93 775.5,423.75 775.65,424.49 776.55,430.09 777.45,433.59 777.5,435 778.35,436.96 779.25,439.8 780.15,440.52 780.5,441.25 781.05,440.83 781.95,440.13 782.85,438.5 783.75,439.84 783.75,438.75 784.65,442.35 785,443.75 785.55,444.2 785.6,444.2 786.25,443.75 786.45,442.46 787.35,435.27 788,432.5 788.25,428.9 789.15,428.49 790,426.25 790.05,426.88 790.95,425.42 791.85,422.73 792.5,423.75 792.75,422.83 793.65,426.38 794.55,426.27 795,427.5 795.45,428.85 796.35,432.67 797.25,433.41 797.5,435 798.15,430.92 799.05,435.9 799.95,431.36 800,431.25 800.85,435.15 801.75,436.49 802.5,436.25 802.65,436.6 803.55,439.88 804.45,440.15 805,441.25 805.35,441.42 806.25,441.87 807.15,442.32 807.5,442.5 808.05,440.85 808.95,438.62 809.85,435.47 810,435 810.75,438.11 811.65,438.54 812.5,436.25 812.55,437.97 813.45,436.36 814.35,439.95 815,441.25 815.25,440.38 816.15,436.87 817.05,435.53 817.5,432.5 817.95,432.79 818.85,431.25 819.75,429.7 820.5,428.75 820.65,427.49 821.55,432.23 822.45,431.01 823,435 823.35,436.63 824.25,439.63 825,442.5 825.15,442.25 826.05,440.75 826.95,440.44 827.85,436.72 828,437.5 828.75,435.18 829.65,434.47 830.55,435.52 831.25,433.75 831.45,433.82 832.35,435.39 833.25,440.75 833.75,442.5 834.15,442.9 835,443.75 835.05,443.95 835.95,444.2 836.5,444.2 836.85,444.2 837.5,443.75 837.75,442 838.65,434.86 838.75,435 839.55,433.79 840.45,432.6 841.25,431.25 841.35,432.31 842.25,430.38 843.15,433.27 844.05,432.29 844.95,433.23 845,432.5 845.85,431.58 846.75,430.21 847.5,430 847.65,428.55 848.55,427.83 849.45,422.74 850,422.5 850.35,423.82 851.25,424.18 852,423.75 852.15,426.73 853.05,428.15 853.75,430 853.95,430.44 854.85,433.95 855.75,436.23 856.25,436.5 856.65,438.89 857.3,439 857.55,434.38 858.3,434 858.45,435.41 859,438 859.35,437.54 860.25,439.84 860.7,440.5 861.15,441.41 862.05,443.24 862.3,443.75 862.95,444.2 863.5,444.2 863.85,444.2 864.3,444.2 864.75,444.2 865.2,444.2 865.65,444.2 866,444.2 866.55,444.2 866.6,444.2 867.45,444.2 867.7,444.2 868.1,443.75 868.2,438 868.35,440.51 868.8,438 868.9,443.75 869.25,443.75 870.15,443.75 870.3,443.75 871,444.2 871.05,444.2 871.5,443.75 871.5,444.2"/>
<polygon id="neg" fill="#f4456e" points="63.75,443.75 63.75,443.75 65.5,443.75 67,443.75 69,443.75 70,443.75 71.5,443.75 73,443.75 74,443.75 75,443.75 77,443.75 79.5,443.75 82,443.75 83.5,443.75 84.5,443.75 85.5,443.75 87,443.75 88.5,443.75 89.5,443.75 90.5,443.75 92,443.75 94,443.75 96,443.75 98,443.75 100,443.75 101,443.75 102.5,443.75 104,443.75 105,443.75 106.5,443.75 108,443.75 109.5,443.75 111,443.75 112,443.75 113,443.75 114.5,443.75 116,443.75 117.5,443.75 119,443.75 120,443.75 122.5,443.75 124,443.75 125,443.75 126.5,443.75 128,443.75 128.5,443.75 129,448.75 130.5,443.75 132,443.75 134,443.75 135.5,443.75 137.5,443.75 139,443.75 141.5,443.75 143.5,443.75 146,443.75 148.5,443.75 150.5,443.75 152.5,443.75 153,443.75 153.75,447 155,444 156.5,447.5 158,443.75 160,443.75 161.5,443.75 163,443.75 167,443.75 170,443.75 172,443.75 174,443.75 176,443.75 178,443.75 180,443.75 182.5,443.75 185,443.75 187,443.75 188.5,443.75 190,443.75 192.5,443.75 195,443.75 197.5,443.75 198.75,443.75 200,443.75 202.5,443.75 204.5,443.75 206.25,443.75 208,443.75 209.5,443.75 210.5,443.75 211.25,443.75 212.5,443.75 214.5,443.75 216,443.75 218,443.75 220,443.75 221.5,443.75 223,443.75 225,443.75 227,443.75 229,443.75 231,443.75 233.5,443.75 235.5,443.75 237.5,443.75 238.5,443.75 239.5,447.5 240.5,443.75 242.5,443.75 245.5,443.75 247.5,443.75 249.5,443.75 252,443.75 253.75,443.75 256.25,443.75 258.75,443.75 260,443.75 261.25,443.75 263.75,443.75 266.25,443.75 268.75,443.75 270,443.75 272.5,443.75 275,443.75 276.25,443.75 277.5,443.75 278.75,443.75 281.25,443.75 283.75,443.75 286.25,443.75 288.75,443.75 291.25,443.75 293.75,443.75 296.25,443.75 297,443.75 298.75,443.75 300,443.75 301.25,443.75 303.75,443.75 305,443.75 306.25,443.75 307,443.75 308.75,443.75 310.5,443.75 312.5,443.75 315,443.75 317.5,443.75 320,443.75 322.5,443.75 324.5,443.75 327,443.75 328,443.75 330,443.75 332.5,443.75 334.5,443.75 336.25,443.75 338.75,443.75 340,443.75 341.25,443.75 342.5,443.75 345,443.75 348.75,443.75 352.5,443.75 355,443.75 357.5,443.75 359.5,443.75 361.25,443.75 363,443.75 365,443.75 367.5,443.75 370,443.75 372.5,443.75 375,443.75 375.5,443.75 377.5,443.75 380,443.75 383.75,443.75 386,443.75 387.3,443.75 388.5,446 390,450 392,457.5 393.5,465 395,476 396.25,483.75 397.2,481 398,475 399,460 399.8,446 400,443.75 402,443.75 403.75,443.75 406.25,443.75 408.75,443.75 411.25,443.75 413.75,443.75 417,443.75 418.75,443.75 421.25,443.75 423.75,443.75 427.5,443.75 430,443.75 432.5,443.75 436.25,443.75 438.75,443.75 440,443.75 441.25,443.75 443.75,443.75 446.25,443.75 449.5,443.75 452,443.75 454.5,443.75 457,443.75 457.5,443.75 459.5,452.5 462,447.5 463.75,443.75 464.5,443.75 466.25,443.75 468.75,443.75 470.5,443.75 473,443.75 475,443.75 476,443.75 476.25,446 476.75,443.75 478,443.75 479.5,443.75 480,443.75 481.25,448.75 483.75,460 485.5,452.5 486.75,443.75 488,443.75 489.5,443.75 491.25,443.75 492.25,443.75 493.75,465 495.5,472.5 497,460 497.75,443.75 498.75,443.75 500.5,443.75 502.5,443.75 505,443.75 507.5,443.75 509.5,443.75 511.25,443.75 513.75,443.75 515.5,443.75 517.5,443.75 519.5,443.75 521,443.75 523,457.5 525,472.5 526.5,457.5 527.5,443.75 528.75,443.75 530.5,443.75 532.5,443.75 533.75,443.75 536.25,443.75 538,443.75 540,443.75 542.5,443.75 545,443.75 546,443.75 546.25,445.5 546.75,443.75 548.75,443.75 551.25,443.75 553,443.75 554.5,443.75 555,446.25 556,443.75 558,443.75 559.5,443.75 561,443.75 561.25,443.75 563,465 565,485 567,500 568.75,505 570.5,490 572,465 573,443.75 573.75,443.75 575.5,443.75 577,443.75 578.75,443.75 580.5,443.75 582.5,443.75 584.5,443.75 587,443.75 589.25,443.75 591.25,443.75 593,443.75 595,443.75 597.5,443.75 600,443.75 602.5,443.75 605,443.75 607.5,443.75 609.25,443.75 611.25,443.75 613.75,443.75 616.25,443.75 618.75,443.75 621.25,443.75 623,443.75 624.5,443.75 626.25,443.75 628,443.75 628.5,443.75 631.25,447.5 633.75,446.25 636.25,450 639.25,458.75 641.25,451.25 642.25,443.75 643.75,443.75 646.25,443.75 648.75,443.75 651.25,443.75 653.75,443.75 655.75,443.75 657.5,443.75 659.5,443.75 660,443.75 662,447.5 664.5,451.25 667,447.5 668.75,443.75 670.5,443.75 673,443.75 675.5,443.75 677.5,443.75 679.5,443.75 681.25,443.75 683.75,443.75 686.25,443.75 688.75,443.75 691.25,443.75 692,443.75 692.5,445.5 693,443.75 693.2,443.75 695,443.75 697.5,443.75 700,443.75 702.5,443.75 703.5,443.75 703.75,446.25 704.25,443.75 705,443.75 707,443.75 707.5,446.25 707.9,443.75 708,443.75 710,443.75 712.5,443.75 715,443.75 717.5,443.75 719.5,443.75 721.25,443.75 723.75,443.75 726.25,443.75 728.75,443.75 731.25,443.75 733.75,443.75 736,443.75 737.5,443.75 740,443.75 742.5,443.75 745,443.75 747.5,443.75 750,443.75 753.75,443.75 757.5,443.75 758.5,443.75 761,447 764,449 767,450 769.5,452 770.5,447 771.25,443.75 773,443.75 775.5,443.75 777.5,443.75 780.5,443.75 783.75,443.75 785,443.75 785.6,447 786.25,443.75 788,443.75 790,443.75 792.5,443.75 795,443.75 797.5,443.75 800,443.75 802.5,443.75 805,443.75 807.5,443.75 810,443.75 812.5,443.75 815,443.75 817.5,443.75 820.5,443.75 823,443.75 825,443.75 828,443.75 831.25,443.75 833.75,443.75 835,443.75 836.5,449.7 837.5,443.75 838.75,443.75 841.25,443.75 845,443.75 847.5,443.75 850,443.75 852,443.75 853.75,443.75 856.25,443.75 857.3,443.75 858.3,443.75 859,443.75 860.7,443.75 862.3,443.75 863.5,452 864.3,453 865.2,456.4 866,452 866.6,450 867.7,446.5 868.1,443.75 868.2,443.75 868.8,443.75 868.9,443.75 870.3,443.75 871,446 871.5,443.75 871.5,443.75"/>
<line x1="63.75" x2="871.5" y1="444.4" y2="444.4" stroke="#d8627c" stroke-width="1.3"/>
<line x1="63.75" x2="887.8" y1="534.4" y2="534.4" stroke="#444" stroke-width="1.5"/>
<polyline fill="none" stroke="#f7931a" stroke-width="1" stroke-opacity="0.8" points="64,534.2 70,534.19 76,534.17 82,534.16 88,534.15 94,534.13 100,534.12 106,534.11 112,534.09 118,534.08 124,534.07 130,534.05 136,534.04 142,534.03 148,534.01 154,534 160,533.99 166,533.97 172,533.96 178,533.95 184,533.94 190,533.92 196,533.91 202,533.88 208,533.83 214,533.78 220,533.73 226,533.67 232,533.62 238,533.57 244,533.51 250,533.46 256,533.41 262,533.36 268,533.31 274,533.25 280,533.2 286,532.94 292,532.68 298,532.41 304,532.15 310,531.75 316,531.15 322,530.55 328,529.9"/>
<polyline id="hash" fill="none" stroke="#f7931a" stroke-width="0.82" stroke-linejoin="round" points="63.75,534.2 63.94,534.19 64.12,534.2 64.31,534.2 64.49,534.2 64.68,534.2 64.86,534.2 65.05,534.2 65.23,534.19 65.42,534.2 65.6,534.2 65.79,534.2 65.97,534.2 66.16,534.2 66.34,534.19 66.53,534.2 66.71,534.2 66.9,534.19 67.08,534.19 67.27,534.19 67.45,534.19 67.64,534.2 67.82,534.19 68.01,534.19 68.19,534.19 68.38,534.19 68.56,534.19 68.75,534.18 68.93,534.19 69.12,534.18 69.3,534.19 69.49,534.18 69.67,534.19 69.86,534.19 70.04,534.19 70.23,534.18 70.41,534.19 70.6,534.19 70.78,534.19 70.97,534.19 71.15,534.19 71.34,534.19 71.52,534.19 71.71,534.17 71.89,534.18 72.08,534.19 72.26,534.18 72.45,534.18 72.63,534.17 72.82,534.18 73,534.19 73.19,534.18 73.37,534.18 73.56,534.18 73.74,534.18 73.93,534.17 74.11,534.2 74.3,534.18 74.48,534.18 74.67,534.18 74.85,534.19 75.04,534.17 75.22,534.18 75.41,534.18 75.59,534.18 75.78,534.17 75.96,534.17 76.15,534.19 76.33,534.17 76.52,534.19 76.7,534.16 76.89,534.17 77.07,534.18 77.26,534.17 77.44,534.16 77.63,534.17 77.81,534.18 78,534.17 78.18,534.16 78.37,534.16 78.55,534.17 78.74,534.17 78.92,534.17 79.11,534.16 79.29,534.17 79.48,534.16 79.66,534.17 79.85,534.17 80.03,534.17 80.22,534.16 80.4,534.17 80.59,534.17 80.77,534.15 80.96,534.16 81.14,534.16 81.33,534.16 81.51,534.16 81.7,534.17 81.88,534.15 82.07,534.17 82.25,534.15 82.44,534.15 82.62,534.17 82.81,534.16 82.99,534.15 83.18,534.16 83.36,534.16 83.55,534.15 83.73,534.17 83.92,534.15 84.1,534.15 84.29,534.15 84.47,534.15 84.66,534.15 84.84,534.16 85.03,534.15 85.21,534.15 85.4,534.15 85.58,534.14 85.77,534.15 85.95,534.15 86.14,534.14 86.32,534.15 86.51,534.14 86.69,534.15 86.88,534.15 87.06,534.14 87.25,534.16 87.43,534.15 87.62,534.15 87.8,534.15 87.99,534.15 88.17,534.15 88.36,534.15 88.54,534.12 88.73,534.12 88.91,534.13 89.1,534.15 89.28,534.14 89.47,534.15 89.65,534.14 89.84,534.14 90.02,534.15 90.21,534.15 90.39,534.13 90.58,534.15 90.76,534.16 90.95,534.15 91.13,534.15 91.32,534.13 91.5,534.13 91.69,534.14 91.87,534.15 92.06,534.15 92.24,534.14 92.43,534.14 92.61,534.15 92.8,534.14 92.98,534.16 93.17,534.14 93.35,534.13 93.54,534.13 93.72,534.13 93.91,534.14 94.09,534.13 94.28,534.14 94.46,534.13 94.65,534.13 94.83,534.13 95.02,534.13 95.2,534.13 95.39,534.14 95.57,534.14 95.76,534.13 95.94,534.12 96.13,534.13 96.31,534.13 96.5,534.12 96.68,534.13 96.87,534.13 97.05,534.14 97.24,534.13 97.42,534.12 97.61,534.13 97.79,534.12 97.98,534.13 98.16,534.13 98.35,534.12 98.53,534.14 98.72,534.12 98.9,534.13 99.09,534.12 99.27,534.14 99.46,534.13 99.64,534.12 99.83,534.11 100.01,534.12 100.2,534.12 100.38,534.12 100.57,534.12 100.75,534.14 100.94,534.11 101.12,534.09 101.31,534.11 101.49,534.12 101.68,534.12 101.86,534.11 102.05,534.1 102.23,534.13 102.42,534.12 102.6,534.11 102.79,534.09 102.97,534.12 103.16,534.1 103.34,534.11 103.53,534.11 103.71,534.12 103.9,534.11 104.08,534.1 104.27,534.11 104.45,534.12 104.64,534.09 104.82,534.11 105.01,534.11 105.19,534.11 105.38,534.11 105.56,534.12 105.75,534.11 105.93,534.11 106.12,534.13 106.3,534.11 106.49,534.1 106.67,534.11 106.86,534.1 107.04,534.1 107.23,534.1 107.41,534.11 107.6,534.1 107.78,534.11 107.97,534.1 108.15,534.1 108.34,534.1 108.52,534.09 108.71,534.11 108.89,534.11 109.08,534.13 109.26,534.1 109.45,534.1 109.63,534.11 109.82,534.09 110,534.1 110.19,534.1 110.37,534.1 110.56,534.1 110.74,534.09 110.93,534.1 111.11,534.1 111.3,534.1 111.48,534.09 111.67,534.08 111.85,534.09 112.04,534.09 112.22,534.09 112.41,534.08 112.59,534.09 112.78,534.09 112.96,534.08 113.15,534.09 113.33,534.11 113.52,534.09 113.7,534.09 113.89,534.09 114.07,534.09 114.26,534.1 114.44,534.09 114.63,534.09 114.81,534.09 115,534.08 115.18,534.1 115.37,534.12 115.55,534.08 115.74,534.08 115.92,534.09 116.11,534.07 116.29,534.09 116.48,534.09 116.66,534.08 116.85,534.08 117.03,534.07 117.22,534.09 117.4,534.08 117.59,534.09 117.77,534.09 117.96,534.08 118.14,534.07 118.33,534.08 118.51,534.08 118.7,534.09 118.88,534.07 119.07,534.09 119.25,534.08 119.44,534.08 119.62,534.07 119.81,534.07 119.99,534.08 120.18,534.07 120.36,534.07 120.55,534.08 120.73,534.09 120.92,534.08 121.1,534.07 121.29,534.07 121.47,534.08 121.66,534.08 121.84,534.07 122.03,534.08 122.21,534.08 122.4,534.08 122.58,534.09 122.77,534.07 122.95,534.07 123.14,534.07 123.32,534.07 123.51,534.08 123.69,534.09 123.88,534.07 124.06,534.07 124.25,534.07 124.43,534.06 124.62,534.04 124.8,534.07 124.99,534.07 125.17,534.06 125.36,534.07 125.54,534.06 125.73,534.09 125.91,534.06 126.1,534.07 126.28,534.03 126.47,534.06 126.65,534.06 126.84,534.04 127.02,534.07 127.21,534.06 127.39,534.06 127.58,534.06 127.76,534.06 127.95,534.06 128.13,534.06 128.32,534.07 128.5,534.07 128.69,534.06 128.87,534.06 129.06,534.06 129.24,534.07 129.43,534.05 129.61,534.05 129.8,534.07 129.98,534.04 130.17,534.06 130.35,534.04 130.54,534.08 130.72,534.06 130.91,534.08 131.09,534.05 131.28,534.07 131.46,534.05 131.65,534.05 131.83,534.05 132.02,534.04 132.2,534.05 132.39,534.04 132.57,534.04 132.76,534.06 132.94,534.06 133.13,534.07 133.31,534.06 133.5,534.05 133.68,534.04 133.87,534.05 134.05,534.04 134.24,534.01 134.42,534.03 134.61,534.05 134.79,534.05 134.98,534.05 135.16,534.06 135.35,534.03 135.53,534.05 135.72,534.01 135.9,534.02 136.09,534.05 136.27,534.04 136.46,534.07 136.64,534.04 136.83,534.06 137.01,534.02 137.2,534.04 137.38,534.04 137.57,534.04 137.75,534.04 137.94,534.04 138.12,534.04 138.31,534.03 138.49,534.03 138.68,534.04 138.86,534.02 139.05,534.04 139.23,534.03 139.42,534.02 139.6,534.04 139.79,534.03 139.97,534.04 140.16,534.04 140.34,534.04 140.53,534.04 140.71,534.04 140.9,534.04 141.08,534.03 141.27,534.03 141.45,534.03 141.64,534.03 141.82,534.04 142.01,534.03 142.19,534.02 142.38,534 142.56,534.03 142.75,534.03 142.93,534.03 143.12,534.03 143.3,534.04 143.49,534.03 143.67,534.02 143.86,534.01 144.04,534.02 144.23,534.02 144.41,534.02 144.6,534.02 144.78,534.02 144.97,534.02 145.15,534.03 145.34,534.05 145.52,534.05 145.71,534.02 145.89,534.02 146.08,534.02 146.26,534.02 146.45,534.02 146.63,534.02 146.82,534.02 147,533.98 147.19,534.03 147.37,534.01 147.56,534.02 147.74,534 147.93,534.04 148.11,534.01 148.3,534.02 148.48,534.02 148.67,534.02 148.85,534.02 149.04,534.02 149.22,534.01 149.41,534.01 149.59,534.01 149.78,534.01 149.96,533.98 150.15,534.02 150.33,534.01 150.52,534.01 150.7,534.03 150.89,533.98 151.07,534.01 151.26,534 151.44,533.99 151.63,533.99 151.81,534.01 152,534.01 152.18,534.01 152.37,534.01 152.55,534 152.74,534 152.92,533.99 153.11,534.01 153.29,534 153.48,534 153.66,534.02 153.85,534.04 154.03,534.01 154.22,534 154.4,533.97 154.59,533.99 154.77,533.99 154.96,533.99 155.14,534.04 155.33,533.99 155.51,534 155.7,534 155.88,534 156.07,533.99 156.25,533.99 156.44,534 156.62,534.03 156.81,533.99 156.99,534.01 157.18,533.99 157.36,533.99 157.55,533.99 157.73,534 157.92,533.99 158.1,533.98 158.29,533.99 158.47,534 158.66,533.98 158.84,533.99 159.03,534.03 159.21,533.99 159.4,534 159.58,533.99 159.77,533.98 159.95,533.99 160.14,534.01 160.32,533.98 160.51,533.97 160.69,533.98 160.88,533.97 161.06,533.97 161.25,533.98 161.43,534 161.62,533.99 161.8,533.99 161.99,534 162.17,533.99 162.36,533.98 162.54,533.98 162.73,533.99 162.91,534.01 163.1,533.97 163.28,534 163.47,534 163.65,533.98 163.84,533.99 164.02,534.01 164.21,533.98 164.39,533.99 164.58,533.99 164.76,533.97 164.95,533.98 165.13,533.96 165.32,533.97 165.5,533.98 165.69,533.94 165.87,533.98 166.06,533.99 166.24,533.97 166.43,533.97 166.61,533.97 166.8,533.97 166.98,533.97 167.17,533.98 167.35,533.97 167.54,533.97 167.72,533.98 167.91,533.97 168.09,533.97 168.28,533.96 168.46,533.96 168.65,533.98 168.83,533.96 169.02,533.99 169.2,533.96 169.39,533.98 169.57,533.95 169.76,533.96 169.94,533.98 170.13,533.97 170.31,533.93 170.5,533.97 170.68,533.97 170.87,533.97 171.05,533.97 171.24,533.97 171.42,533.97 171.61,533.97 171.79,533.96 171.98,534 172.16,533.97 172.35,533.96 172.53,533.98 172.72,533.96 172.9,534 173.09,533.99 173.27,533.95 173.46,533.97 173.64,533.93 173.83,533.95 174.01,533.95 174.2,533.95 174.38,533.96 174.57,533.96 174.75,533.97 174.94,533.95 175.12,533.94 175.31,533.95 175.49,533.92 175.68,533.96 175.86,533.95 176.05,533.95 176.23,533.95 176.42,533.95 176.6,533.96 176.79,533.96 176.97,533.93 177.16,533.95 177.34,533.95 177.53,533.95 177.71,533.95 177.9,533.95 178.08,533.94 178.27,533.94 178.45,533.94 178.64,533.94 178.82,533.97 179.01,533.96 179.19,533.93 179.38,533.95 179.56,533.94 179.75,533.95 179.93,533.94 180.12,533.92 180.3,533.96 180.49,533.96 180.67,533.93 180.86,533.94 181.04,533.93 181.23,533.95 181.41,533.93 181.6,533.96 181.78,533.93 181.97,533.94 182.15,533.95 182.34,533.94 182.52,533.94 182.71,533.94 182.89,533.95 183.08,533.93 183.26,533.93 183.45,533.94 183.63,533.93 183.82,533.94 184,533.93 184.19,533.94 184.37,533.93 184.56,533.95 184.74,533.94 184.93,533.98 185.11,533.96 185.3,533.92 185.48,533.92 185.67,533.91 185.85,533.94 186.04,533.95 186.22,533.91 186.41,533.94 186.59,533.93 186.78,533.92 186.96,533.93 187.15,533.92 187.33,533.95 187.52,533.92 187.7,533.92 187.89,533.91 188.07,533.93 188.26,533.92 188.44,533.94 188.63,533.93 188.81,533.91 189,533.95 189.18,533.93 189.37,533.92 189.55,533.91 189.74,533.94 189.92,533.9 190.11,533.91 190.29,533.93 190.48,533.92 190.66,533.94 190.85,533.92 191.03,533.93 191.22,533.92 191.4,533.91 191.59,533.91 191.77,533.9 191.96,533.9 192.14,533.93 192.33,533.93 192.51,533.94 192.7,533.92 192.88,533.9 193.07,533.9 193.25,533.9 193.44,533.92 193.62,533.93 193.81,533.93 193.99,533.92 194.18,533.89 194.36,533.92 194.55,533.9 194.73,533.91 194.92,533.92 195.1,533.87 195.29,533.9 195.47,533.92 195.66,533.9 195.84,533.92 196.03,533.91 196.21,533.92 196.4,533.89 196.58,533.91 196.77,533.91 196.95,533.95 197.14,533.9 197.32,533.9 197.51,533.95 197.69,533.91 197.88,533.88 198.06,533.89 198.25,533.89 198.43,533.9 198.62,533.95 198.8,533.9 198.99,533.91 199.17,533.93 199.36,533.87 199.54,533.91 199.73,533.9 199.91,533.9 200.1,533.89 200.28,533.89 200.47,533.9 200.65,533.87 200.84,533.89 201.02,533.89 201.21,533.89 201.39,533.88 201.58,533.89 201.76,533.87 201.95,533.89 202.13,533.87 202.32,533.9 202.5,533.86 202.69,533.89 202.87,533.83 203.06,533.88 203.24,533.86 203.43,533.87 203.61,533.89 203.8,533.86 203.98,533.83 204.17,533.86 204.35,533.84 204.54,533.82 204.72,533.86 204.91,533.88 205.09,533.87 205.28,533.87 205.46,533.83 205.65,533.84 205.83,533.84 206.02,533.85 206.2,533.85 206.39,533.83 206.57,533.9 206.76,533.85 206.94,533.85 207.13,533.82 207.31,533.83 207.5,533.84 207.68,533.83 207.87,533.82 208.05,533.83 208.24,533.8 208.42,533.84 208.61,533.83 208.79,533.85 208.98,533.84 209.16,533.83 209.35,533.82 209.53,533.79 209.72,533.82 209.9,533.81 210.09,533.83 210.27,533.81 210.46,533.83 210.64,533.84 210.83,533.82 211.01,533.81 211.2,533.78 211.38,533.81 211.57,533.78 211.75,533.8 211.94,533.8 212.12,533.79 212.31,533.78 212.49,533.8 212.68,533.77 212.86,533.79 213.05,533.84 213.23,533.76 213.42,533.79 213.6,533.78 213.79,533.79 213.97,533.84 214.16,533.77 214.34,533.76 214.53,533.78 214.71,533.77 214.9,533.75 215.08,533.77 215.27,533.76 215.45,533.77 215.64,533.77 215.82,533.77 216.01,533.77 216.19,533.82 216.38,533.74 216.56,533.74 216.75,533.7 216.93,533.79 217.12,533.76 217.3,533.75 217.49,533.77 217.67,533.75 217.86,533.77 218.04,533.81 218.23,533.74 218.41,533.75 218.6,533.73 218.78,533.74 218.97,533.73 219.15,533.74 219.34,533.72 219.52,533.71 219.71,533.71 219.89,533.73 220.08,533.73 220.26,533.72 220.45,533.72 220.63,533.74 220.82,533.74 221,533.71 221.19,533.71 221.37,533.72 221.56,533.72 221.74,533.68 221.93,533.71 222.11,533.72 222.3,533.72 222.48,533.69 222.67,533.72 222.85,533.73 223.04,533.71 223.22,533.68 223.41,533.73 223.59,533.72 223.78,533.7 223.96,533.7 224.15,533.76 224.33,533.69 224.52,533.65 224.7,533.65 224.89,533.7 225.07,533.69 225.26,533.73 225.44,533.61 225.63,533.62 225.81,533.69 226,533.64 226.18,533.68 226.37,533.65 226.55,533.67 226.74,533.65 226.92,533.63 227.11,533.68 227.29,533.59 227.48,533.62 227.66,533.65 227.85,533.64 228.03,533.67 228.22,533.67 228.4,533.72 228.59,533.68 228.77,533.67 228.96,533.64 229.14,533.65 229.33,533.64 229.51,533.64 229.7,533.63 229.88,533.63 230.07,533.63 230.25,533.65 230.44,533.63 230.62,533.65 230.81,533.65 230.99,533.63 231.18,533.67 231.36,533.63 231.55,533.61 231.73,533.55 231.92,533.61 232.1,533.57 232.29,533.61 232.47,533.6 232.66,533.6 232.84,533.62 233.03,533.6 233.21,533.55 233.4,533.64 233.58,533.59 233.77,533.6 233.95,533.68 234.14,533.63 234.32,533.57 234.51,533.61 234.69,533.61 234.88,533.6 235.06,533.6 235.25,533.61 235.43,533.57 235.62,533.57 235.8,533.58 235.99,533.56 236.17,533.59 236.36,533.56 236.54,533.58 236.73,533.56 236.91,533.57 237.1,533.55 237.28,533.59 237.47,533.56 237.65,533.58 237.84,533.56 238.02,533.59 238.21,533.55 238.39,533.59 238.58,533.55 238.76,533.5 238.95,533.59 239.13,533.55 239.32,533.48 239.5,533.57 239.69,533.58 239.87,533.56 240.06,533.55 240.24,533.53 240.43,533.52 240.61,533.54 240.8,533.53 240.98,533.53 241.17,533.53 241.35,533.54 241.54,533.52 241.72,533.53 241.91,533.51 242.09,533.53 242.28,533.52 242.46,533.48 242.65,533.58 242.83,533.52 243.02,533.52 243.2,533.55 243.39,533.47 243.57,533.53 243.76,533.53 243.94,533.52 244.13,533.53 244.31,533.48 244.5,533.47 244.68,533.53 244.87,533.51 245.05,533.5 245.24,533.44 245.42,533.48 245.61,533.5 245.79,533.44 245.98,533.49 246.16,533.5 246.35,533.53 246.53,533.5 246.72,533.5 246.9,533.57 247.09,533.49 247.27,533.43 247.46,533.48 247.64,533.49 247.83,533.47 248.01,533.56 248.2,533.46 248.38,533.45 248.57,533.56 248.75,533.46 248.94,533.5 249.12,533.45 249.31,533.49 249.49,533.46 249.68,533.44 249.86,533.49 250.05,533.48 250.23,533.45 250.42,533.52 250.6,533.47 250.79,533.4 250.97,533.45 251.16,533.46 251.34,533.46 251.53,533.45 251.71,533.46 251.9,533.48 252.08,533.44 252.27,533.43 252.45,533.45 252.64,533.43 252.82,533.44 253.01,533.43 253.19,533.51 253.38,533.46 253.56,533.42 253.75,533.45 253.93,533.45 254.12,533.41 254.3,533.42 254.49,533.52 254.67,533.4 254.86,533.42 255.04,533.4 255.23,533.44 255.41,533.43 255.6,533.43 255.78,533.34 255.97,533.4 256.15,533.41 256.34,533.41 256.52,533.43 256.71,533.43 256.89,533.43 257.08,533.38 257.26,533.45 257.45,533.38 257.63,533.37 257.82,533.38 258,533.37 258.19,533.45 258.37,533.43 258.56,533.42 258.74,533.4 258.93,533.39 259.11,533.37 259.3,533.46 259.48,533.36 259.67,533.38 259.85,533.4 260.04,533.42 260.22,533.37 260.41,533.42 260.59,533.38 260.78,533.38 260.96,533.38 261.15,533.39 261.33,533.34 261.52,533.32 261.7,533.38 261.89,533.35 262.07,533.35 262.26,533.32 262.44,533.39 262.63,533.36 262.81,533.36 263,533.31 263.18,533.31 263.37,533.29 263.55,533.33 263.74,533.34 263.92,533.35 264.11,533.41 264.29,533.33 264.48,533.31 264.66,533.31 264.85,533.33 265.03,533.44 265.22,533.31 265.4,533.32 265.59,533.33 265.77,533.31 265.96,533.29 266.14,533.31 266.33,533.4 266.51,533.3 266.7,533.26 266.88,533.34 267.07,533.34 267.25,533.35 267.44,533.3 267.62,533.21 267.81,533.3 267.99,533.3 268.18,533.28 268.36,533.28 268.55,533.36 268.73,533.34 268.92,533.3 269.1,533.31 269.29,533.33 269.47,533.31 269.66,533.33 269.84,533.28 270.03,533.3 270.21,533.27 270.4,533.31 270.58,533.28 270.77,533.29 270.95,533.3 271.14,533.25 271.32,533.25 271.51,533.36 271.69,533.27 271.88,533.26 272.06,533.28 272.25,533.27 272.43,533.26 272.62,533.29 272.8,533.23 272.99,533.25 273.17,533.24 273.36,533.23 273.54,533.27 273.73,533.27 273.91,533.27 274.1,533.28 274.28,533.24 274.47,533.27 274.65,533.29 274.84,533.2 275.02,533.25 275.21,533.23 275.39,533.23 275.58,533.27 275.76,533.23 275.95,533.22 276.13,533.25 276.32,533.24 276.5,533.26 276.69,533.25 276.87,533.2 277.06,533.24 277.24,533.24 277.43,533.23 277.61,533.26 277.8,533.2 277.98,533.21 278.17,533.2 278.35,533.11 278.54,533.19 278.72,533.22 278.91,533.23 279.09,533.18 279.28,533.27 279.46,533.3 279.65,533.28 279.83,533.19 280.02,533.32 280.2,533.27 280.39,533.17 280.57,533.17 280.76,533.12 280.94,533.19 281.13,533.1 281.31,533.12 281.5,533.11 281.68,533.01 281.87,533.09 282.05,533.14 282.24,533.17 282.42,533 282.61,533.13 282.79,532.96 282.98,533.09 283.16,533.08 283.35,533.06 283.53,533.03 283.72,532.95 283.9,533.06 284.09,533 284.27,533.02 284.46,532.88 284.64,533 284.83,533.01 285.01,532.99 285.2,533.02 285.38,532.98 285.57,532.93 285.75,533.02 285.94,532.9 286.12,532.95 286.31,532.95 286.49,532.96 286.68,532.84 286.86,532.88 287.05,532.92 287.23,532.93 287.42,532.85 287.6,532.87 287.79,532.88 287.97,532.8 288.16,532.82 288.34,532.81 288.53,532.79 288.71,532.84 288.9,532.75 289.08,532.79 289.27,532.85 289.45,532.77 289.64,532.76 289.82,532.8 290.01,532.78 290.19,532.72 290.38,532.75 290.56,532.78 290.75,532.76 290.93,532.7 291.12,532.78 291.3,532.7 291.49,532.73 291.67,532.72 291.86,532.67 292.04,532.7 292.23,532.68 292.41,532.62 292.6,532.7 292.78,532.68 292.97,532.65 293.15,532.65 293.34,532.8 293.52,532.59 293.71,532.62 293.89,532.58 294.08,532.57 294.26,532.57 294.45,532.56 294.63,532.61 294.82,532.48 295,532.53 295.19,532.55 295.37,532.57 295.56,532.47 295.74,532.52 295.93,532.51 296.11,532.47 296.3,532.53 296.48,532.47 296.67,532.47 296.85,532.48 297.04,532.46 297.22,532.49 297.41,532.64 297.59,532.45 297.78,532.38 297.96,532.36 298.15,532.39 298.33,532.4 298.52,532.36 298.7,532.39 298.89,532.34 299.07,532.34 299.26,532.37 299.44,532.36 299.63,532.35 299.81,532.34 300,532.29 300.18,532.26 300.37,532.32 300.55,532.32 300.74,532.34 300.92,532.5 301.11,532.35 301.29,532.28 301.48,532.27 301.66,532.31 301.85,532.24 302.03,532.26 302.22,532.18 302.4,532.44 302.59,532.19 302.77,532.04 302.96,532.18 303.14,532.26 303.33,532.16 303.51,532.17 303.7,532.23 303.88,532.09 304.07,532.19 304.25,532.35 304.44,532.06 304.62,532.13 304.81,532.03 304.99,532.04 305.18,532.07 305.36,532.03 305.55,532.11 305.73,532.05 305.92,531.85 306.1,532.18 306.29,532.27 306.47,532.22 306.66,532.02 306.84,532.06 307.03,531.86 307.21,532.12 307.4,531.82 307.58,532 307.77,531.95 307.95,531.95 308.14,531.95 308.32,531.93 308.51,531.92 308.69,531.77 308.88,531.88 309.06,531.9 309.25,531.78 309.43,531.86 309.62,531.77 309.8,531.8 309.99,531.61 310.17,531.8 310.36,531.66 310.54,531.69 310.73,531.78 310.91,531.67 311.1,531.56 311.28,531.59 311.47,531.59 311.65,531.53 311.84,531.63 312.02,531.54 312.21,531.82 312.39,531.4 312.58,531.4 312.76,531.55 312.95,531.56 313.13,531.53 313.32,531.52 313.5,531.43 313.69,531.33 313.87,531.34 314.06,531.22 314.24,531.15 314.43,531.19 314.61,531.29 314.8,531.21 314.98,531.16 315.17,531.22 315.35,531.16 315.54,531.13 315.72,531.16 315.91,531.33 316.09,531.06 316.28,531.37 316.46,531.07 316.65,530.96 316.83,531.16 317.02,530.98 317.2,531.11 317.39,530.68 317.57,531.1 317.76,531.01 317.94,530.73 318.13,531.05 318.31,530.89 318.5,530.91 318.68,530.85 318.87,530.79 319.05,530.85 319.24,530.78 319.42,530.75 319.61,530.78 319.79,530.79 319.98,530.69 320.16,530.72 320.35,530.65 320.53,530.72 320.72,530.65 320.9,530.69 321.09,530.73 321.27,530.61 321.46,530.62 321.64,530.57 321.83,530.5 322.01,530.58 322.2,530.46 322.38,530.57 322.57,530.47 322.75,530.39 322.94,530.57 323.12,530.35 323.31,530.23 323.49,530.16 323.68,530.33 323.86,530.42 324.05,530.27 324.23,530.23 324.42,530.35 324.6,530.22 324.79,529.99 324.97,530.15 325.16,530.24 325.34,530.22 325.53,530.17 325.71,529.88 325.9,530.03 326.08,530.29 326.27,530.18 326.45,530.3 326.64,529.91 326.82,530.44 327.01,530.04 327.19,530 327.38,530.09 327.56,529.87 327.75,529.89 327.93,530.12 328.12,530.1 328.3,529.75 328.49,529.78 328.67,529.68 328.86,530.06 329.04,529.48 329.23,529.79 329.41,529.53 329.6,529.54 329.78,529.5 329.97,529.69 330.15,529.23 330.34,529.51 330.52,529.52 330.71,529.5 330.89,529.29 331.08,529.41 331.26,529.51 331.45,529.04 331.63,529.18 331.82,529.7 332,529.05 332.19,529.25 332.37,529.16 332.56,528.94 332.74,528.87 332.93,528.94 333.11,529.1 333.3,528.75 333.48,528.71 333.67,529.03 333.85,528.67 334.04,528.84 334.22,528.86 334.41,528.76 334.59,528.61 334.78,528.49 334.96,528.49 335.15,528.56 335.33,528.47 335.52,528.34 335.7,528.53 335.89,528.26 336.07,528.29 336.26,527.63 336.44,528.24 336.63,528.07 336.81,528.1 337,528.43 337.18,528.1 337.37,528.01 337.55,527.8 337.74,528.01 337.92,528.07 338.11,527.87 338.29,527.75 338.48,528.27 338.66,527.52 338.85,527.65 339.03,528.02 339.22,527.61 339.4,527.56 339.59,527.95 339.77,527.75 339.96,527.87 340.14,527.21 340.33,528.21 340.51,527.24 340.7,527.3 340.88,527.38 341.07,527.26 341.25,527.67 341.44,527.37 341.62,526.89 341.81,527.41 341.99,527.12 342.18,527.11 342.36,527 342.55,527.14 342.73,526.93 342.92,526.69 343.1,526.95 343.29,526.24 343.47,526.95 343.66,526.56 343.84,526.71 344.03,526.69 344.21,527.12 344.4,527.26 344.58,526.8 344.77,526.86 344.95,526.79 345.14,527.23 345.32,526.69 345.51,526.75 345.69,526.94 345.88,526.55 346.06,526.61 346.25,526.11 346.43,526.56 346.62,526.71 346.8,526.68 346.99,527.27 347.17,526.29 347.36,526.58 347.54,526.59 347.73,526.25 347.91,525.88 348.1,525.88 348.28,526.33 348.47,526 348.65,526.63 348.84,526.51 349.02,526.43 349.21,525.74 349.39,525.86 349.58,526.01 349.76,525.82 349.95,525.63 350.13,525.97 350.32,525.56 350.5,525.75 350.69,525.84 350.87,525.62 351.06,525.99 351.24,525.98 351.43,525.99 351.61,525.91 351.8,525.58 351.98,525.35 352.17,525.9 352.35,525.68 352.54,525.59 352.72,524.52 352.91,525.39 353.09,525.11 353.28,525.93 353.46,525.39 353.65,525.76 353.83,525.04 354.02,525.37 354.2,525.31 354.39,525.1 354.57,525.85 354.76,524.97 354.94,525.71 355.13,524.56 355.31,524.8 355.5,525.37 355.68,524.14 355.87,524.66 356.05,524.58 356.24,525.04 356.42,524.38 356.61,524.63 356.79,525.74 356.98,524.8 357.16,524.27 357.35,524.53 357.53,524.01 357.72,524.84 357.9,524.46 358.09,523.63 358.27,524.04 358.46,524.58 358.64,524.29 358.83,524.04 359.01,524.58 359.2,524.11 359.38,523.67 359.57,524.56 359.75,524.03 359.94,524.17 360.12,523.37 360.31,523.28 360.49,523.89 360.68,523.49 360.86,524.09 361.05,523.97 361.23,523.72 361.42,523.8 361.6,523.86 361.79,523.93 361.97,523.67 362.16,523.83 362.34,523.38 362.53,522.86 362.71,523.47 362.9,523.13 363.08,523.39 363.27,523.14 363.45,523.1 363.64,523.23 363.82,523.25 364.01,523.12 364.19,522.78 364.38,523.69 364.56,523.43 364.75,523.21 364.93,523.42 365.12,522.81 365.3,523.28 365.49,522.62 365.67,522.27 365.86,522.62 366.04,522.3 366.23,522.37 366.41,522.57 366.6,521.9 366.78,522.01 366.97,522.27 367.15,521.51 367.34,522 367.52,521.61 367.71,522.1 367.89,520.41 368.08,521.45 368.26,521.16 368.45,521.99 368.63,521.15 368.82,521.51 369,521.18 369.19,520.52 369.37,520.67 369.56,520.77 369.74,521.14 369.93,521.55 370.11,520.74 370.3,521.38 370.48,520.57 370.67,520.46 370.85,520.89 371.04,520.58 371.22,521.59 371.41,520.36 371.59,520.74 371.78,519.9 371.96,521.09 372.15,519.42 372.33,520.96 372.52,519.4 372.7,519.34 372.89,519.23 373.07,519.09 373.26,519.45 373.44,520.15 373.63,519.32 373.81,519.41 374,517.51 374.18,519.28 374.37,518.99 374.55,519.26 374.74,518.82 374.92,518.1 375.11,518.5 375.29,518.17 375.48,518.49 375.66,519.61 375.85,518.4 376.03,519.28 376.22,519.1 376.4,518.16 376.59,518.47 376.77,518.8 376.96,518.91 377.14,518.06 377.33,519.29 377.51,519.08 377.7,518.6 377.88,518.07 378.07,518.63 378.25,519.33 378.44,518.81 378.62,519.52 378.81,519.01 378.99,518.07 379.18,517.8 379.36,518.65 379.55,517.93 379.73,518.48 379.92,520.05 380.1,517.7 380.29,519.19 380.47,517.75 380.66,518.82 380.84,517.85 381.03,518.27 381.21,518.59 381.4,516.53 381.58,518.35 381.77,516.78 381.95,518.13 382.14,518.01 382.32,517.83 382.51,517.54 382.69,516.63 382.88,517.63 383.06,518.15 383.25,519.37 383.43,518.23 383.62,517.28 383.8,518.22 383.99,518.16 384.17,518.34 384.36,518.32 384.54,518.5 384.73,519.11 384.91,518.37 385.1,519.62 385.28,519.05 385.47,518.91 385.65,519.3 385.84,518.23 386.02,519.91 386.21,519.19 386.39,518.75 386.58,519.35 386.76,519.57 386.95,519.6 387.13,519.59 387.32,520.82 387.5,519.23 387.69,521.52 387.87,519.82 388.06,520.15 388.24,520.06 388.43,520.38 388.61,520.43 388.8,520.29 388.98,520.53 389.17,520.41 389.35,520.57 389.54,521.2 389.72,521.23 389.91,520.64 390.09,521.14 390.28,521.63 390.46,520.95 390.65,520.24 390.83,521.12 391.02,520.91 391.2,521.89 391.39,522.36 391.57,521.7 391.76,522.08 391.94,522.17 392.13,522.16 392.31,522.55 392.5,521.92 392.68,522.21 392.87,522.06 393.05,522.6 393.24,522.49 393.42,522.31 393.61,523.1 393.79,521.79 393.98,522.91 394.16,522.66 394.35,521.77 394.53,522.66 394.72,523.05 394.9,522.72 395.09,523.59 395.27,523.38 395.46,523.28 395.64,523.37 395.83,523.13 396.01,523.23 396.2,523.34 396.38,523.01 396.57,522.54 396.75,523.66 396.94,522.89 397.12,523.68 397.31,522.66 397.49,522.53 397.68,523.05 397.86,523.06 398.05,522.01 398.23,522.74 398.42,522.17 398.6,522.56 398.79,522.92 398.97,522.57 399.16,522.43 399.34,522.57 399.53,522.43 399.71,522.82 399.9,522.03 400.08,522.61 400.27,521.75 400.45,522.02 400.64,522.89 400.82,522.6 401.01,522.22 401.19,522.6 401.38,522.29 401.56,522.03 401.75,522.1 401.93,521.94 402.12,522.71 402.3,522.04 402.49,522.59 402.67,521.36 402.86,522.03 403.04,522.28 403.23,521.68 403.41,521.63 403.6,521.01 403.78,521.96 403.97,521.46 404.15,521.68 404.34,521.88 404.52,521.93 404.71,521.91 404.89,521.71 405.08,521.89 405.26,522.33 405.45,521.94 405.63,522.14 405.82,522.07 406,521.36 406.19,522.47 406.37,521.68 406.56,521.56 406.74,521.8 406.93,523.12 407.11,523.11 407.3,521.65 407.48,521.98 407.67,521.65 407.85,521.61 408.04,521.96 408.22,521.92 408.41,522.02 408.59,521.72 408.78,521.45 408.96,521.95 409.15,522.05 409.33,521.5 409.52,521.44 409.7,521.01 409.89,521.39 410.07,521.35 410.26,521.01 410.44,521.43 410.63,521.76 410.81,521.45 411,521.14 411.18,521.44 411.37,522.18 411.55,522.33 411.74,521.13 411.92,520.8 412.11,521.08 412.29,520.17 412.48,521.21 412.66,522.23 412.85,521.5 413.03,521.25 413.22,520.15 413.4,520.95 413.59,521.52 413.77,520.79 413.96,520.99 414.14,522.36 414.33,520.78 414.51,521.33 414.7,521.28 414.88,520.76 415.07,521.17 415.25,520.58 415.44,521.47 415.62,521.15 415.81,522.26 415.99,521.21 416.18,521.06 416.36,521.31 416.55,520.5 416.73,520.99 416.92,520.25 417.1,519.19 417.29,520.16 417.47,520.72 417.66,521 417.84,521.43 418.03,520.91 418.21,519.8 418.4,521.01 418.58,520.43 418.77,520.12 418.95,521.19 419.14,520.68 419.32,520.7 419.51,519.62 419.69,519.89 419.88,519.09 420.06,520.18 420.25,518.66 420.43,520.91 420.62,520.44 420.8,519.7 420.99,520.35 421.17,520.03 421.36,520.02 421.54,520.74 421.73,519.31 421.91,520.45 422.1,519.98 422.28,519.99 422.47,519.87 422.65,519.82 422.84,518.22 423.02,520.5 423.21,519.64 423.39,520.16 423.58,519.36 423.76,520.55 423.95,518.56 424.13,519.24 424.32,519.77 424.5,519.01 424.69,519.9 424.87,521.27 425.06,519.98 425.24,519.31 425.43,518.99 425.61,520.56 425.8,518.86 425.98,518.28 426.17,519.36 426.35,519.69 426.54,518.51 426.72,518.29 426.91,517.97 427.09,518.4 427.28,517.91 427.46,517.69 427.65,517.5 427.83,517.98 428.02,518.15 428.2,517.84 428.39,517.83 428.57,517.22 428.76,516.3 428.94,519.07 429.13,516.63 429.31,516.78 429.5,516.89 429.68,516.74 429.87,516.17 430.05,516.57 430.24,515.3 430.42,516.83 430.61,516.49 430.79,516.01 430.98,515.78 431.16,515.77 431.35,515.08 431.53,516.84 431.72,513.51 431.9,515.74 432.09,516.89 432.27,513.64 432.46,515.37 432.64,515.93 432.83,515.38 433.01,516.23 433.2,514.96 433.38,514.64 433.57,515.36 433.75,514.83 433.94,516.33 434.12,515.12 434.31,514.01 434.49,514.3 434.68,514.27 434.86,514.13 435.05,514.27 435.23,513.27 435.42,513.35 435.6,514.03 435.79,513.53 435.97,514.09 436.16,512.57 436.34,512.89 436.53,514.51 436.71,512.24 436.9,510.04 437.08,513.02 437.27,512.26 437.45,512.18 437.64,513.38 437.82,511.15 438.01,512.09 438.19,511.34 438.38,512.82 438.56,511.73 438.75,512.85 438.93,512.14 439.12,510.52 439.3,511.75 439.49,509.2 439.67,511.03 439.86,510.28 440.04,510.8 440.23,510.2 440.41,510.64 440.6,509.73 440.78,510.42 440.97,509.78 441.15,507.03 441.34,510.41 441.52,509.08 441.71,509.82 441.89,507.52 442.08,509.56 442.26,509.36 442.45,510 442.63,508.96 442.82,508.42 443,509.35 443.19,507.05 443.37,509.19 443.56,507.93 443.74,507.76 443.93,506.09 444.11,507.38 444.3,507.22 444.48,507.91 444.67,507.9 444.85,508.32 445.04,507.37 445.22,505.13 445.41,506.95 445.59,507.02 445.78,507.39 445.96,507.36 446.15,506.46 446.33,507.24 446.52,506.51 446.7,506.28 446.89,507.2 447.07,507.02 447.26,507.41 447.44,507.09 447.63,507.58 447.81,507.85 448,508.13 448.18,506.59 448.37,505.92 448.55,506.42 448.74,504.75 448.92,506.24 449.11,506.31 449.29,507.77 449.48,504.91 449.66,505.55 449.85,505.73 450.03,504.91 450.22,506.3 450.4,504.9 450.59,508.53 450.77,505.6 450.96,505.51 451.14,504.89 451.33,505.92 451.51,503.01 451.7,504.63 451.88,504.92 452.07,503.95 452.25,505.34 452.44,504.9 452.62,505.35 452.81,505.32 452.99,505.85 453.18,506.09 453.36,504.75 453.55,508.22 453.73,506.36 453.92,507.01 454.1,506.28 454.29,506.18 454.47,506.38 454.66,506.96 454.84,504.37 455.03,505.35 455.21,509.66 455.4,507.02 455.58,505.97 455.77,507.07 455.95,504.37 456.14,505.25 456.32,507.68 456.51,506.05 456.69,507.81 456.88,506.84 457.06,506.29 457.25,507.02 457.43,507.93 457.62,508.04 457.8,506.44 457.99,506.68 458.17,505.79 458.36,508.36 458.54,506.88 458.73,507.72 458.91,505.78 459.1,508.02 459.28,507.67 459.47,506.06 459.65,505.65 459.84,507.08 460.02,505.73 460.21,506.75 460.39,505.47 460.58,505.82 460.76,509.54 460.95,505.88 461.13,506.09 461.32,505.89 461.5,505.37 461.69,504.18 461.87,501.96 462.06,504.81 462.24,505.11 462.43,506.44 462.61,504 462.8,504.99 462.98,504.89 463.17,504.8 463.35,506.04 463.54,503.56 463.72,503.63 463.91,505.25 464.09,504.09 464.28,504.38 464.46,506.48 464.65,505.77 464.83,506.65 465.02,501.8 465.2,502.33 465.39,504.23 465.57,504.49 465.76,502.73 465.94,505.17 466.13,502.8 466.31,503.68 466.5,503.71 466.68,504.89 466.87,503.18 467.05,504.76 467.24,503.06 467.42,501.7 467.61,502.3 467.79,504.93 467.98,502.22 468.16,502.21 468.35,503.17 468.53,503 468.72,500.96 468.9,501.84 469.09,503.87 469.27,503.37 469.46,503.88 469.64,502.56 469.83,501.97 470.01,503.06 470.2,503.36 470.38,501.16 470.57,501.63 470.75,501.43 470.94,503.29 471.12,503.03 471.31,501.59 471.49,498.66 471.68,500.33 471.86,500.87 472.05,503.51 472.23,500.3 472.42,499.8 472.6,500.5 472.79,501.83 472.97,500.4 473.16,505.43 473.34,500.84 473.53,500.63 473.71,500.82 473.9,500.3 474.08,505.17 474.27,500.27 474.45,500.66 474.64,501.67 474.82,500.73 475.01,500.3 475.19,503.24 475.38,503.22 475.56,501.36 475.75,501.42 475.93,502.18 476.12,500.04 476.3,502.4 476.49,498.47 476.67,499.03 476.86,499.15 477.04,505.56 477.23,500.63 477.41,501.72 477.6,501.38 477.78,502.84 477.97,502.13 478.15,503.89 478.34,503.94 478.52,503.32 478.71,504.56 478.89,503.55 479.08,503.98 479.26,505.03 479.45,503 479.63,504.06 479.82,505.86 480,506.12 480.19,506.39 480.37,507.39 480.56,506.1 480.74,506.12 480.93,506.34 481.11,506.67 481.3,508.29 481.48,510.73 481.67,508.29 481.85,506.51 482.04,506.67 482.22,505.81 482.41,504.74 482.59,505.96 482.78,504.13 482.96,506.73 483.15,506.42 483.33,505.39 483.52,504.85 483.7,508.76 483.89,505.4 484.07,504.31 484.26,503.44 484.44,506.3 484.63,505.56 484.81,504.46 485,500.49 485.18,504.45 485.37,506.21 485.55,502.93 485.74,503.65 485.92,503.96 486.11,501.79 486.29,502.56 486.48,502.53 486.66,502.5 486.85,502.67 487.03,502.42 487.22,502.28 487.4,501.48 487.59,501.27 487.77,500.54 487.96,502.08 488.14,502.39 488.33,502.1 488.51,502.13 488.7,503.79 488.88,504.97 489.07,504.06 489.25,504.95 489.44,504.66 489.62,506.35 489.81,506.17 489.99,506.74 490.18,504.01 490.36,507.31 490.55,507.41 490.73,511.08 490.92,507.35 491.1,508.39 491.29,506.55 491.47,507.71 491.66,511.36 491.84,510.2 492.03,508.36 492.21,507.63 492.4,506.53 492.58,507.54 492.77,503.38 492.95,506.59 493.14,505.74 493.32,505.78 493.51,503.77 493.69,503.43 493.88,503.42 494.06,505.66 494.25,506.49 494.43,502.38 494.62,501.33 494.8,503.7 494.99,501.87 495.17,501.83 495.36,501.05 495.54,500.01 495.73,500.33 495.91,499.43 496.1,500.43 496.28,499.9 496.47,499.46 496.65,499.33 496.84,500.46 497.02,503.25 497.21,499.8 497.39,500.41 497.58,499.37 497.76,500.27 497.95,498.29 498.13,499.13 498.32,498 498.5,498.91 498.69,497.67 498.87,498.81 499.06,497.67 499.24,498.73 499.43,499.22 499.61,499.86 499.8,498.05 499.98,496.82 500.17,499.59 500.35,497.79 500.54,496.98 500.72,499.2 500.91,498.03 501.09,497.35 501.28,497.64 501.46,498.9 501.65,498.05 501.83,498.56 502.02,497.04 502.2,496.32 502.39,499.78 502.57,498.82 502.76,497.08 502.94,497.56 503.13,498.04 503.31,495.47 503.5,496.44 503.68,497.59 503.87,498.62 504.05,495.48 504.24,495.83 504.42,498.63 504.61,497.25 504.79,497 504.98,495.5 505.16,495.55 505.35,496.42 505.53,497.88 505.72,497.66 505.9,493.69 506.09,497.1 506.27,494.35 506.46,497.01 506.64,493.41 506.83,494.65 507.01,498.81 507.2,493.25 507.38,493.83 507.57,492.01 507.75,496.46 507.94,494.11 508.12,494.26 508.31,495.8 508.49,497.25 508.68,496.87 508.86,494.39 509.05,497.94 509.23,492.16 509.42,494.28 509.6,490.84 509.79,494.48 509.97,494.19 510.16,491.5 510.34,493.77 510.53,492.97 510.71,494.17 510.9,493.11 511.08,493.68 511.27,493.43 511.45,492.06 511.64,492.89 511.82,493.64 512.01,492.67 512.19,496.64 512.38,493.46 512.56,491.69 512.75,490.33 512.93,492.43 513.12,491.38 513.3,490.87 513.49,492.7 513.67,491.01 513.86,494.17 514.04,490.79 514.23,490.11 514.41,491.81 514.6,493.85 514.78,494.61 514.97,491.93 515.15,494.61 515.34,489.77 515.52,491.92 515.71,492.67 515.89,490.39 516.08,486.88 516.26,490.56 516.45,491.6 516.63,489.42 516.82,492.32 517,488.62 517.19,488.69 517.37,487.83 517.56,491.09 517.74,489.75 517.93,492.27 518.11,491.3 518.3,497.92 518.48,491.34 518.67,498.75 518.85,490.49 519.04,495.15 519.22,493.82 519.41,491.56 519.59,494.57 519.78,497 519.96,495.03 520.15,496.83 520.33,498.44 520.52,500.37 520.7,496.35 520.89,498.6 521.07,501.92 521.26,500.06 521.44,500.27 521.63,495.32 521.81,499.1 522,498.23 522.18,499.96 522.37,501.47 522.55,499.11 522.74,497.86 522.92,498.46 523.11,498.92 523.29,496.55 523.48,497.82 523.66,495.91 523.85,497.67 524.03,498.25 524.22,498.27 524.4,498 524.59,496.08 524.77,497.09 524.96,498.1 525.14,496.95 525.33,496.57 525.51,498.16 525.7,495.73 525.88,495.69 526.07,496.29 526.25,494.21 526.44,496.79 526.62,496.68 526.81,495.47 526.99,493.3 527.18,489.79 527.36,495.71 527.55,496.7 527.73,496.91 527.92,494.78 528.1,490.51 528.29,494.31 528.47,491.62 528.66,493.51 528.84,493.87 529.03,492.67 529.21,492.47 529.4,493.55 529.58,494.88 529.77,492.65 529.95,493.01 530.14,493.78 530.32,498.41 530.5,490.57 530.69,493.01 530.87,493.66 531.06,493.01 531.24,490.96 531.43,492.27 531.61,494.5 531.8,491.44 531.98,492.17 532.17,492.33 532.35,491.41 532.54,489.97 532.72,490.99 532.91,491.61 533.09,489.82 533.28,491.53 533.46,490.16 533.65,491 533.83,489.28 534.02,491.87 534.2,489.85 534.39,490.2 534.57,491.74 534.76,491.14 534.94,492.4 535.13,490.54 535.31,489.66 535.5,490.39 535.68,490.07 535.87,489.28 536.05,489.92 536.24,489.78 536.42,486.97 536.61,489.38 536.79,488.9 536.98,485.51 537.16,489.64 537.35,488.54 537.53,484.69 537.72,490.55 537.9,490.71 538.09,490.61 538.27,488.3 538.46,490.3 538.64,488.39 538.83,491.03 539.01,485.89 539.2,490.55 539.38,483.07 539.57,489.8 539.75,489.85 539.94,490.22 540.12,489.57 540.31,488.06 540.49,490.15 540.68,488.86 540.86,483.4 541.05,489.03 541.23,488.05 541.42,490.24 541.6,488.1 541.79,490.11 541.97,493.9 542.16,488.7 542.34,486.72 542.53,488.15 542.71,491.88 542.9,487.31 543.08,486.69 543.27,487.04 543.45,485.91 543.64,486.67 543.82,487.49 544.01,486.43 544.19,486.76 544.38,489.64 544.56,488.63 544.75,488.53 544.93,488.31 545.12,486.05 545.3,488.11 545.49,490.14 545.67,486.51 545.86,486.68 546.04,493.41 546.23,486.64 546.41,486.09 546.6,486.01 546.78,481.87 546.97,485.87 547.15,485.81 547.34,480.01 547.52,487.66 547.71,489.76 547.89,484.32 548.08,487.4 548.26,483.98 548.45,492.21 548.63,483.95 548.82,486.73 549,484.67 549.19,484.45 549.37,482.06 549.56,485.13 549.74,483.21 549.93,483.28 550.11,485.11 550.3,479.06 550.48,490.01 550.67,484.73 550.85,482.67 551.04,481.65 551.22,483.37 551.41,481.28 551.59,483.99 551.78,485.42 551.96,484.21 552.15,481.32 552.33,482.21 552.52,481.71 552.7,483.6 552.89,487.77 553.07,488.31 553.26,495.93 553.44,491.02 553.63,490.7 553.81,486.67 554,488.3 554.18,487.51 554.37,485.47 554.55,485.67 554.74,480.43 554.92,478.99 555.11,478.58 555.29,479.12 555.48,480.84 555.66,480.32 555.85,477.67 556.03,477.04 556.22,477.04 556.4,479.29 556.59,480.41 556.77,479.89 556.96,470.44 557.14,479.3 557.33,479.34 557.51,479.65 557.7,478.59 557.88,487.53 558.07,485.19 558.25,480.16 558.44,483 558.62,485.52 558.81,482.84 558.99,485.36 559.18,488.63 559.36,486.81 559.55,488.86 559.73,493.64 559.92,490.37 560.1,490.78 560.29,490.02 560.47,488.6 560.66,491.97 560.84,492.58 561.03,492.9 561.21,493.46 561.4,493.32 561.58,494.6 561.77,490.44 561.95,494.64 562.14,496.47 562.32,496.67 562.51,497.15 562.69,500.67 562.88,498.85 563.06,500.89 563.25,500.23 563.43,499.51 563.62,502.59 563.8,501.57 563.99,502.95 564.17,503.35 564.36,503.7 564.54,502.58 564.73,504.67 564.91,505.25 565.1,507.35 565.28,507.55 565.47,507.87 565.65,508.91 565.84,508.99 566.02,509.93 566.21,510.13 566.39,509.34 566.58,509.4 566.76,509.78 566.95,510.2 567.13,509.03 567.32,508.03 567.5,508.13 567.69,507.49 567.87,507.54 568.06,506.49 568.24,503.02 568.43,506.87 568.61,504.93 568.8,507.25 568.98,505.85 569.17,507.6 569.35,503.65 569.54,505.79 569.72,504.21 569.91,502.03 570.09,504.56 570.28,500.83 570.46,503.44 570.65,502.11 570.83,502.95 571.02,501.05 571.2,501.27 571.39,501.35 571.57,501.31 571.76,503.51 571.94,499.2 572.13,501.18 572.31,500.74 572.5,498.66 572.68,504.02 572.87,503.75 573.05,499.39 573.24,499.1 573.42,500.08 573.61,497.27 573.79,499.71 573.98,498.51 574.16,497.07 574.35,499.37 574.53,499.26 574.72,498.29 574.9,497.5 575.09,499.11 575.27,496.83 575.46,500.15 575.64,496.5 575.83,498.07 576.01,492.73 576.2,492.57 576.38,498.55 576.57,495.48 576.75,498.32 576.94,497.86 577.12,497.71 577.31,495.91 577.49,495.48 577.68,494.97 577.86,496.39 578.05,497.02 578.23,499.69 578.42,494.74 578.6,498.07 578.79,496.49 578.97,493.35 579.16,495.34 579.34,496.74 579.53,495.3 579.71,499.23 579.9,494.14 580.08,492.82 580.27,494.79 580.45,490.58 580.64,495.05 580.82,494.13 581.01,494.66 581.19,493.04 581.38,494.48 581.56,495.6 581.75,491.91 581.93,493.01 582.12,489.28 582.3,495.76 582.49,492.35 582.67,492.51 582.86,489.3 583.04,490.22 583.23,497.38 583.41,492.14 583.6,489.15 583.78,493.13 583.97,492.47 584.15,491.43 584.34,493.46 584.52,490.25 584.71,488.48 584.89,492.96 585.08,490.59 585.26,488.59 585.45,490.45 585.63,488.07 585.82,488.82 586,489.18 586.19,486.46 586.37,488.84 586.56,483.37 586.74,490.13 586.93,488.82 587.11,487.86 587.3,488.22 587.48,491 587.67,486.5 587.85,487.5 588.04,488.69 588.22,484.51 588.41,487.93 588.59,487.84 588.78,489.05 588.96,483.33 589.15,488.06 589.33,486.56 589.52,489.97 589.7,486.69 589.89,486.45 590.07,487.98 590.26,489.18 590.44,487.7 590.63,484.38 590.81,489.11 591,493.63 591.18,484.53 591.37,486.8 591.55,488.58 591.74,487.8 591.92,486.11 592.11,485.46 592.29,485.95 592.48,487.65 592.66,479.79 592.85,489.52 593.03,487.76 593.22,488.36 593.4,488.1 593.59,486.44 593.77,484.03 593.96,485.49 594.14,484.66 594.33,483.41 594.51,483.04 594.7,488.87 594.88,491.35 595.07,481.71 595.25,482.92 595.44,484.58 595.62,482.45 595.81,484.32 595.99,485.54 596.18,490.45 596.36,485.46 596.55,481.95 596.73,475.94 596.92,482.07 597.1,485.26 597.29,483.68 597.47,481.53 597.66,479.71 597.84,474.8 598.03,485.82 598.21,479.3 598.4,480.75 598.58,482.51 598.77,478.55 598.95,480.22 599.14,483.95 599.32,479.93 599.51,477.53 599.69,480.84 599.88,483.17 600.06,481.69 600.25,477.99 600.43,479.53 600.62,478.95 600.8,482.11 600.99,478.7 601.17,476.24 601.36,478.63 601.54,483.12 601.73,487.09 601.91,482.18 602.1,478.19 602.28,478.42 602.47,480.82 602.65,479.55 602.84,478.57 603.02,478.43 603.21,477.91 603.39,477.37 603.58,478.27 603.76,480.72 603.95,480.86 604.13,478.07 604.32,479.93 604.5,479.5 604.69,476.36 604.87,477.64 605.06,477.81 605.24,483.07 605.43,479.22 605.61,476.25 605.8,476.73 605.98,474.13 606.17,477.58 606.35,479.19 606.54,477.61 606.72,478.19 606.91,477.1 607.09,478.9 607.28,478.3 607.46,476.7 607.65,474.11 607.83,474.56 608.02,473.93 608.2,468.98 608.39,474.16 608.57,476.64 608.76,474.48 608.94,477.04 609.13,475.82 609.31,475.02 609.5,473.49 609.68,477.53 609.87,478.39 610.05,471.95 610.24,474.6 610.42,475.41 610.61,474.78 610.79,476.15 610.98,472.75 611.16,474.8 611.35,468.37 611.53,469.84 611.72,471.2 611.9,474.49 612.09,477.88 612.27,471.33 612.46,477.49 612.64,466 612.83,472.57 613.01,472.24 613.2,473.65 613.38,475.2 613.57,473.97 613.75,472.81 613.94,471.38 614.12,479.28 614.31,470.62 614.49,474.32 614.68,473.72 614.86,470.03 615.05,475.23 615.23,470.89 615.42,472.08 615.6,472.35 615.79,470.88 615.97,470.92 616.16,472.74 616.34,472.71 616.53,471.61 616.71,469.38 616.9,471.95 617.08,466.93 617.27,470.96 617.45,476.94 617.64,473.01 617.82,472.19 618.01,469.26 618.19,468.36 618.38,468.69 618.56,471.3 618.75,467.67 618.93,471.43 619.12,468.05 619.3,469.07 619.49,469.16 619.67,471.44 619.86,467.9 620.04,468.58 620.23,469.39 620.41,465.13 620.6,468.09 620.78,468.97 620.97,475.07 621.15,474.71 621.34,470.16 621.52,470.67 621.71,470.32 621.89,470.62 622.08,470.02 622.26,462.16 622.45,472.55 622.63,468.24 622.82,467.52 623,468.61 623.19,470 623.37,469.42 623.56,470.62 623.74,477.74 623.93,468.66 624.11,469.46 624.3,464.76 624.48,466.88 624.67,475.68 624.85,467.61 625.04,469.32 625.22,469.53 625.41,469.64 625.59,471.03 625.78,470.55 625.96,470.28 626.15,474.77 626.33,464.48 626.52,470.45 626.7,472.08 626.89,466.29 627.07,473.36 627.26,468.96 627.44,466.19 627.63,473.96 627.81,471.2 628,469.16 628.18,473.78 628.37,473.63 628.55,470.04 628.74,473.08 628.92,470.61 629.11,476.26 629.29,477.81 629.48,474.45 629.66,477.36 629.85,477.85 630.03,475.93 630.22,479.12 630.4,474.82 630.59,476.53 630.77,481.03 630.96,478.19 631.14,480.41 631.33,475.18 631.51,475.44 631.7,479.08 631.88,473.29 632.07,475.04 632.25,469.5 632.44,478.65 632.62,469.54 632.81,469.56 632.99,476.67 633.18,475.76 633.36,478.64 633.55,477.94 633.73,474.85 633.92,474.35 634.1,477.69 634.29,476.68 634.47,475.74 634.66,470.8 634.84,479.89 635.03,475.87 635.21,478.42 635.4,478.7 635.58,473.38 635.77,483.2 635.95,477.56 636.14,476.35 636.32,485.18 636.51,474.96 636.69,475.26 636.88,477.13 637.06,481.28 637.25,475.71 637.43,477.18 637.62,468.3 637.8,478.78 637.99,477.35 638.17,475.32 638.36,476.49 638.54,474.9 638.73,478.45 638.91,474.65 639.1,478.53 639.28,473.41 639.47,468.24 639.65,483.78 639.84,472.25 640.02,470 640.21,474.4 640.39,483.34 640.58,474.49 640.76,473.51 640.95,473.54 641.13,475.41 641.32,480.88 641.5,472.97 641.69,475.71 641.87,474.13 642.06,473.85 642.24,472.41 642.43,467.94 642.61,475.97 642.8,471.71 642.98,470.41 643.17,474 643.35,472.84 643.54,462.8 643.72,473.9 643.91,469.36 644.09,473.06 644.28,470.21 644.46,468.01 644.65,479.83 644.83,473.84 645.02,466.52 645.2,470.72 645.39,467.82 645.57,468.81 645.76,468.48 645.94,465.53 646.13,460.25 646.31,468.36 646.5,467.39 646.68,470.72 646.87,463.98 647.05,468.61 647.24,467.7 647.42,465.99 647.61,470.52 647.79,464.16 647.98,465.62 648.16,457.99 648.35,465.74 648.53,465.81 648.72,464.05 648.9,463.12 649.09,466.12 649.27,463.41 649.46,464.69 649.64,465.28 649.83,459.16 650.01,460.68 650.2,460.16 650.38,458.49 650.57,464.33 650.75,464.22 650.94,457.72 651.12,461.8 651.31,462.05 651.49,463.44 651.68,463.9 651.86,460.07 652.05,457.17 652.23,456.73 652.42,462.26 652.6,459.23 652.79,448.25 652.97,470.35 653.16,457.55 653.34,461.37 653.53,457.1 653.71,458.57 653.9,448.12 654.08,461.77 654.27,455.04 654.45,454.64 654.64,459.9 654.82,456.52 655.01,456.02 655.19,452.94 655.38,455.24 655.56,461.72 655.75,453.85 655.93,453.98 656.12,458.04 656.3,460.78 656.49,468.59 656.67,457.89 656.86,455.16 657.04,455.09 657.23,456.29 657.41,456.75 657.6,464.3 657.78,460.29 657.97,460.26 658.15,456.32 658.34,452.38 658.52,458.37 658.71,460.19 658.89,453.12 659.08,458.19 659.26,464.29 659.45,457.07 659.63,458.63 659.82,454.21 660,455.49 660.19,457.7 660.37,456.03 660.56,459.07 660.74,467.31 660.93,458.38 661.11,454.31 661.3,458.26 661.48,458.85 661.67,455.26 661.85,462.01 662.04,456.22 662.22,457.7 662.41,463.01 662.59,459.27 662.78,454.16 662.96,455.96 663.15,461.15 663.33,464.31 663.52,464.25 663.7,465.55 663.89,462.38 664.07,460.54 664.26,464.91 664.44,464.89 664.63,460.46 664.81,456.64 665,465.53 665.18,463.65 665.37,471.8 665.55,461.65 665.74,469.85 665.92,461.15 666.11,459.7 666.29,463.09 666.48,465.49 666.66,460.64 666.85,461.75 667.03,459.48 667.22,460.61 667.4,454.51 667.59,454.53 667.77,461.94 667.96,455.59 668.14,469.54 668.33,458.07 668.51,458.19 668.7,453.67 668.88,458.3 669.07,458.75 669.25,451.55 669.44,455.62 669.62,459.5 669.81,454.37 669.99,460.25 670.18,456.77 670.36,452.65 670.55,452.19 670.73,465.34 670.92,459.22 671.1,451.07 671.29,461.67 671.47,458.32 671.66,455.53 671.84,454.31 672.03,458.66 672.21,456.48 672.4,451.31 672.58,453.24 672.77,450.53 672.95,455.34 673.14,453.91 673.32,449.87 673.51,461.34 673.69,444.03 673.88,451.79 674.06,453.41 674.25,450.91 674.43,448.8 674.62,454.9 674.8,458.31 674.99,452.47 675.17,445.44 675.36,452.18 675.54,455.29 675.73,452 675.91,460.08 676.1,452.53 676.28,453.73 676.47,445.98 676.65,454.26 676.84,450.24 677.02,447.89 677.21,451.57 677.39,448.24 677.58,449.52 677.76,451.53 677.95,451.7 678.13,447.08 678.32,444.89 678.5,443.97 678.69,455.6 678.87,448.68 679.06,451.78 679.24,448.53 679.43,444.35 679.61,453.47 679.8,447.32 679.98,443.6 680.17,445.89 680.35,444.63 680.54,442.55 680.72,429.89 680.91,445.72 681.09,440.56 681.28,445.56 681.46,436.66 681.65,449.99 681.83,437.74 682.02,443.17 682.2,442.02 682.39,448.68 682.57,434.44 682.76,438.65 682.94,437.56 683.13,437.75 683.31,439.93 683.5,433.74 683.68,432.7 683.87,431.94 684.05,441.08 684.24,427.92 684.42,439.11 684.61,436.65 684.79,419.3 684.98,423.89 685.16,433.47 685.35,437.54 685.53,436.53 685.72,434.81 685.9,433.15 686.09,432 686.27,425 686.46,437.5 686.64,435.99 686.83,436.46 687.01,434.43 687.2,432.02 687.38,431.06 687.57,436.77 687.75,435.22 687.94,422.51 688.12,432.67 688.31,432.27 688.49,442.93 688.68,433.18 688.86,424.24 689.05,436.57 689.23,431.13 689.42,432.83 689.6,429.66 689.79,433.71 689.97,429.47 690.16,436.19 690.34,435.1 690.53,429.33 690.71,429.29 690.9,419.12 691.08,445.29 691.27,432.02 691.45,431.34 691.64,422.3 691.82,438.39 692.01,421.21 692.19,425.37 692.38,417.56 692.56,415.54 692.75,426.51 692.93,428.04 693.12,427.29 693.3,421.61 693.49,423.3 693.67,427 693.86,431.26 694.04,428.93 694.23,435.52 694.41,427.16 694.6,436.41 694.78,427.15 694.97,438.66 695.15,421.82 695.34,425.86 695.52,421.75 695.71,433.12 695.89,429.35 696.08,420.6 696.26,422.12 696.45,417.24 696.63,423.07 696.82,425.32 697,431.56 697.19,430.83 697.37,422.32 697.56,422.31 697.74,422.03 697.93,424.02 698.11,420.11 698.3,430.95 698.48,426.81 698.67,427.98 698.85,426.16 699.04,429.35 699.22,431.98 699.41,408.35 699.59,417.29 699.78,438.18 699.96,431.71 700.15,427.41 700.33,407.91 700.52,422.28 700.7,420.57 700.89,424.99 701.07,418.69 701.26,424.92 701.44,420.31 701.63,422.5 701.81,437.62 702,423.64 702.18,420.13 702.37,424.26 702.55,420.47 702.74,424.91 702.92,424.23 703.11,426.7 703.29,427.37 703.48,425.25 703.66,415.95 703.85,414.32 704.03,420.32 704.22,417.24 704.4,410.37 704.59,422.36 704.77,420.83 704.96,418.04 705.14,420.52 705.33,426.79 705.51,421.5 705.7,423.2 705.88,420.21 706.07,419.25 706.25,423.81 706.44,414.56 706.62,419.75 706.81,430.47 706.99,422.39 707.18,416.86 707.36,429.39 707.55,424.54 707.73,403.93 707.92,414.29 708.1,425.11 708.29,418.2 708.47,422.02 708.66,428.83 708.84,413.55 709.03,415.05 709.21,398.66 709.4,416.71 709.58,413.94 709.77,432.18 709.95,422.36 710.14,413.66 710.32,409.49 710.51,419.01 710.69,413.38 710.88,416.6 711.06,428.37 711.25,420.38 711.43,405.6 711.62,413.17 711.8,412.81 711.99,419.39 712.17,422.02 712.36,417.21 712.54,401.21 712.73,418.05 712.91,404.61 713.1,415.22 713.28,417.54 713.47,413.49 713.65,417.03 713.84,424.49 714.02,410.43 714.21,416.3 714.39,406.39 714.58,398.4 714.76,414.97 714.95,408.88 715.13,401.12 715.32,415.84 715.5,409.02 715.69,423.14 715.87,409.23 716.06,415.74 716.24,404.12 716.43,411.81 716.61,410.07 716.8,403.16 716.98,401.79 717.17,402.73 717.35,405.37 717.54,413.37 717.72,405 717.91,415.69 718.09,404.41 718.28,412.64 718.46,392.7 718.65,412.32 718.83,408.77 719.02,413.38 719.2,413.75 719.39,410.13 719.57,411.58 719.76,407.07 719.94,394.79 720.13,389.49 720.31,392.87 720.5,414.37 720.68,411.7 720.87,407.62 721.05,396.02 721.24,419.56 721.42,408.03 721.61,417.16 721.79,395.45 721.98,398.09 722.16,413.19 722.35,396.84 722.53,396.85 722.72,390.63 722.9,404.16 723.09,391.37 723.27,392.54 723.46,385.91 723.64,389.86 723.83,403.45 724.01,399.83 724.2,396.8 724.38,399.61 724.57,413.6 724.75,404.55 724.94,372.98 725.12,396.75 725.31,386.83 725.49,402.57 725.68,386.67 725.86,391.33 726.05,396.69 726.23,384.81 726.42,416.47 726.6,391.23 726.79,399.38 726.97,399.79 727.16,401.16 727.34,402.98 727.53,386.81 727.71,403.1 727.9,387.95 728.08,389.59 728.27,409.53 728.45,383.41 728.64,377.41 728.82,383.26 729.01,397.85 729.19,391.95 729.38,374.13 729.56,403.09 729.75,373.83 729.93,389.62 730.12,373.65 730.3,376.22 730.49,385.47 730.67,362 730.86,393.09 731.04,384.05 731.23,378.96 731.41,390.94 731.6,391.78 731.78,372.6 731.97,374.73 732.15,371.57 732.34,377.49 732.52,389.6 732.71,387.67 732.89,368.54 733.08,387.5 733.26,383.99 733.45,383.61 733.63,390.87 733.82,380.52 734,372.49 734.19,374.89 734.37,367.04 734.56,368.86 734.74,381.16 734.93,372.68 735.11,366.92 735.3,397.82 735.48,375.54 735.67,377.24 735.85,374.57 736.04,377.94 736.22,379.65 736.41,364.76 736.59,391.06 736.78,390.78 736.96,356.54 737.15,363.6 737.33,368.08 737.52,371.19 737.7,375.65 737.89,373.8 738.07,373.06 738.26,377.53 738.44,360.4 738.63,366.07 738.81,381.44 739,351.26 739.18,370.42 739.37,362.51 739.55,376.25 739.74,374.28 739.92,364.99 740.11,360.48 740.29,370.74 740.48,354.4 740.66,366.63 740.85,340.97 741.03,390.7 741.22,354.36 741.4,358.2 741.59,362.51 741.77,367.93 741.96,376.43 742.14,336.72 742.33,369.43 742.51,352.82 742.7,358.48 742.88,352.29 743.07,366.8 743.25,356.58 743.44,351.68 743.62,355.02 743.81,370.65 743.99,371.14 744.18,365.02 744.36,358.63 744.55,366.09 744.73,345.32 744.92,375.13 745.1,356.71 745.29,357.38 745.47,367.77 745.66,366.19 745.84,352.17 746.03,390.32 746.21,338.62 746.4,352.37 746.58,342.78 746.77,350.44 746.95,352.4 747.14,346.36 747.32,384.46 747.51,355.44 747.69,351.39 747.88,347.25 748.06,357.81 748.25,364.32 748.43,350.76 748.62,341.15 748.8,354.85 748.99,354.29 749.17,373.61 749.36,380.2 749.54,361.05 749.73,337.69 749.91,364.61 750.1,350.54 750.28,334.65 750.47,363.55 750.65,358.08 750.84,347.24 751.02,360.38 751.21,370.57 751.39,372.85 751.58,363.5 751.76,339.56 751.95,345.77 752.13,370.84 752.32,380.73 752.5,362.09 752.69,349.69 752.87,356 753.06,344.86 753.24,346.04 753.43,346.87 753.61,363.16 753.8,351.45 753.98,341.87 754.17,357.13 754.35,353.25 754.54,357.52 754.72,350.58 754.91,338.9 755.09,346.83 755.28,356.06 755.46,342.96 755.65,358.93 755.83,364.28 756.02,371.94 756.2,351.04 756.39,374.24 756.57,389.1 756.76,351.65 756.94,368.78 757.13,368.9 757.31,359.99 757.5,366.54 757.68,361.27 757.87,360.51 758.05,356.66 758.24,354.35 758.42,384.94 758.61,367.71 758.79,364.21 758.98,384.72 759.16,354.31 759.35,349.74 759.53,367.36 759.72,383.32 759.9,360.89 760.09,361.46 760.27,351.97 760.46,363.5 760.64,357.93 760.83,380.41 761.01,366.38 761.2,364.82 761.38,359.94 761.57,357.21 761.75,361.21 761.94,374.92 762.12,358.63 762.31,371.71 762.49,371.34 762.68,358.48 762.86,366.47 763.05,356.35 763.23,354.99 763.42,349.48 763.6,379.08 763.79,359.04 763.97,357.24 764.16,351.82 764.34,369.68 764.53,366.64 764.71,363.81 764.9,367.61 765.08,366.8 765.27,360.24 765.45,370.03 765.64,385.06 765.82,368.88 766.01,364.06 766.19,392.65 766.38,362.48 766.56,372.77 766.75,367.16 766.93,387.02 767.12,380.61 767.3,360.63 767.49,375.52 767.67,357.42 767.86,373.1 768.04,382.92 768.23,366.19 768.41,363.94 768.6,364.02 768.78,348.84 768.97,364.78 769.15,360.92 769.34,359.83 769.52,364.28 769.71,345.59 769.89,355.2 770.08,356.73 770.26,375.8 770.45,357.68 770.63,359.3 770.82,377.05 771,356.57 771.19,340.4 771.37,352.71 771.56,336.77 771.74,339.6 771.93,350.08 772.11,347.04 772.3,357.31 772.48,361.44 772.67,323.2 772.85,349.31 773.04,345.79 773.22,354.74 773.41,334.56 773.59,339.64 773.78,344.27 773.96,348.95 774.15,351.69 774.33,347.22 774.52,349.04 774.7,351.54 774.89,342.16 775.07,338.89 775.26,312.69 775.44,346.31 775.63,344.27 775.81,357.17 776,351.61 776.18,358.67 776.37,379.72 776.55,330.19 776.74,355.66 776.92,331.36 777.11,355.17 777.29,358.11 777.48,340.27 777.66,349.87 777.85,341.08 778.03,330.51 778.22,359.85 778.4,343.77 778.59,347.55 778.77,355.96 778.96,320.18 779.14,325.44 779.33,343.52 779.51,342.11 779.7,331.95 779.88,335.7 780.07,312.54 780.25,362.47 780.44,327.21 780.62,344.2 780.81,346.36 780.99,341.17 781.18,349.02 781.36,358.32 781.55,339.86 781.73,358.92 781.92,337.78 782.1,330.25 782.29,345.31 782.47,340.11 782.66,348.74 782.84,338.21 783.03,334.11 783.21,339.82 783.4,362.99 783.58,328.73 783.77,355.07 783.95,355.24 784.14,332.25 784.32,316 784.51,328.57 784.69,329.53 784.88,340.24 785.06,338.51 785.25,332.97 785.43,322.58 785.62,342.18 785.8,315.43 785.99,358.48 786.17,324.9 786.36,328.25 786.54,332.78 786.73,302.97 786.91,322.92 787.1,345.5 787.28,361.78 787.47,349.52 787.65,312.32 787.84,287.01 788.02,320.76 788.21,307.6 788.39,335.65 788.58,322.87 788.76,333.97 788.95,319.98 789.13,324.18 789.32,304.65 789.5,334.01 789.69,303.24 789.87,317.38 790.06,313.59 790.24,296.51 790.43,314.35 790.61,278.18 790.8,311.52 790.98,339.27 791.17,323.73 791.35,313.76 791.54,329.74 791.72,324.82 791.91,312.69 792.09,315.85 792.28,317.81 792.46,303.28 792.65,333.04 792.83,298.53 793.02,336.42 793.2,307.43 793.39,317.09 793.57,283.38 793.76,303.52 793.94,263.16 794.13,297.77 794.31,305.52 794.5,316.48 794.68,286.36 794.87,272.37 795.05,281.64 795.24,349.09 795.42,334.64 795.61,287.13 795.79,283.86 795.98,287.23 796.16,324.22 796.35,299.65 796.53,296.95 796.72,316.29 796.9,286.73 797.09,285.96 797.27,306.68 797.46,305.6 797.64,270.51 797.83,299.66 798.01,300.93 798.2,276.48 798.38,344.01 798.57,266.47 798.75,312.52 798.94,289.71 799.12,280.25 799.31,275.15 799.49,280.28 799.68,295.17 799.86,298.65 800.05,298.52 800.23,322.68 800.42,336.18 800.6,292.12 800.79,280.95 800.97,307.57 801.16,277.26 801.34,301.52 801.53,290.61 801.71,319.47 801.9,281.45 802.08,279.77 802.27,282.11 802.45,288.42 802.64,281.9 802.82,311.49 803.01,279.25 803.19,263.36 803.38,264.12 803.56,295.11 803.75,291.4 803.93,310.96 804.12,289.02 804.3,307.33 804.49,320.58 804.67,288.36 804.86,302.95 805.04,292.71 805.23,299.08 805.41,307.16 805.6,283.07 805.78,273.03 805.97,310.7 806.15,301.63 806.34,303.56 806.52,283.6 806.71,287.86 806.89,287.33 807.08,271.5 807.26,293.79 807.45,256.38 807.63,283.38 807.82,326.47 808,274.6 808.19,280.39 808.37,306.12 808.56,275.23 808.74,291.39 808.93,292.08 809.11,283.28 809.3,294.57 809.48,280.24 809.67,246.28 809.85,280.44 810.04,278.92 810.22,284.61 810.41,306.51 810.59,268.04 810.78,282.27 810.96,272.16 811.15,278.22 811.33,236.06 811.52,270.31 811.7,311.26 811.89,293.84 812.07,334.59 812.26,273.67 812.44,308.56 812.63,293.29 812.81,269.94 813,310.8 813.18,277.19 813.37,319.42 813.55,262.8 813.74,302.67 813.92,300.37 814.11,280.37 814.29,297.2 814.48,282.19 814.66,252.31 814.85,294.69 815.03,256.85 815.22,286.89 815.4,262.87 815.59,277.97 815.77,254.8 815.96,263.68 816.14,298.87 816.33,308.72 816.51,270.54 816.7,271.68 816.88,233.82 817.07,298.39 817.25,267.9 817.44,275.73 817.62,279.16 817.81,255.64 817.99,285.16 818.18,301.19 818.36,263.91 818.55,282.46 818.73,312.09 818.92,283.59 819.1,266.24 819.29,280.58 819.47,268.35 819.66,285.66 819.84,263.84 820.03,281.39 820.21,283.41 820.4,264.01 820.58,258.6 820.77,299.18 820.95,280.75 821.14,271.27 821.32,295.41 821.51,275.06 821.69,311.96 821.88,279.06 822.06,272.54 822.25,308.84 822.43,269.22 822.62,280.07 822.8,269.06 822.99,284.84 823.17,279.71 823.36,287.9 823.54,299.11 823.73,277.71 823.91,263.48 824.1,275.33 824.28,281.13 824.47,256.59 824.65,265.86 824.84,324.05 825.02,279.63 825.21,308.5 825.39,243.58 825.58,264.83 825.76,280.74 825.95,268.46 826.13,281.69 826.32,273.26 826.5,292.01 826.69,291.88 826.87,284.55 827.06,297.42 827.24,312.14 827.43,312.33 827.61,257.26 827.8,252.88 827.98,303.91 828.17,274.76 828.35,251.33 828.54,263.85 828.72,258.75 828.91,269.33 829.09,292.06 829.28,265.03 829.46,267.67 829.65,282.13 829.83,276.92 830.02,276.22 830.2,249.18 830.39,255.8 830.57,276.98 830.76,290.37 830.94,297.64 831.13,255.09 831.31,281.41 831.5,283.07 831.68,282.82 831.87,293.06 832.05,268.63 832.24,257.8 832.42,275.33 832.61,263.36 832.79,316.07 832.98,288.82 833.16,271.53 833.35,280.82 833.53,281.02 833.72,280.11 833.9,279 834.09,257.73 834.27,264.74 834.46,293.4 834.64,284.49 834.83,249.15 835.01,251.54 835.2,280.2 835.38,270.36 835.57,254.32 835.75,269.03 835.94,241.15 836.12,279.33 836.31,275.55 836.49,279.58 836.68,289.24 836.86,291.02 837.05,281.87 837.23,271.26 837.42,299.71 837.6,263.58 837.79,240.7 837.97,264.52 838.16,266.57 838.34,237.68 838.53,228.76 838.71,276.4 838.9,249.45 839.08,265.43 839.27,266.44 839.45,273.16 839.64,234.97 839.82,303.86 840.01,276.38 840.19,272.55 840.38,219.88 840.56,292.25 840.75,255.09 840.93,246.7 841.12,249.69 841.3,281.99 841.49,254.02 841.67,236.36 841.86,276.26 842.04,284.26 842.23,265.48 842.41,257.04 842.6,282.73 842.78,275.61 842.97,225.6 843.15,227.86 843.34,261.69 843.52,246.81 843.71,251.88 843.89,227.33 844.08,220 844.26,250.43 844.45,236.47 844.63,254.86 844.82,250.77 845,258.6 845.19,236.64 845.37,258.59 845.56,235.55 845.74,199.58 845.93,221.19 846.11,234.44 846.3,237.75 846.48,261.54 846.67,258.87 846.85,255.91 847.04,204.35 847.22,182.32 847.41,223.67 847.59,300.01 847.78,284.8 847.96,199.3 848.15,298.88 848.33,195.93 848.52,240.96 848.7,211.64 848.89,229.39 849.07,223.85 849.26,223.17 849.44,228.58 849.63,231.65 849.81,295.52 850,184.07 850.18,210.93 850.37,165.86 850.55,233.51 850.74,227.58 850.92,215.15 851.11,229.39 851.29,235.83 851.48,224.74 851.66,246.92 851.85,260.74 852.03,239.25 852.22,230.66 852.4,187.89 852.59,216.71 852.77,250.06 852.96,274.5 853.14,165 853.33,242.68 853.51,217.9 853.7,233.38 853.88,231.64 854.07,184.88 854.25,185.09 854.44,199.45 854.62,230.86 854.81,193.96 854.99,221.09 855.18,207.16 855.36,216.08 855.55,157 855.73,181.59 855.92,212.56 856.1,162.06 856.29,219.84 856.47,197.42 856.66,243.69 856.84,206.64 857.03,219.43 857.21,195.79 857.4,224.49 857.58,182.38 857.77,214.04 857.95,225.25 858.14,203.78 858.32,205.37 858.51,216.7 858.69,241.38 858.88,236.78 859.06,210.95 859.25,252.54 859.43,195.92 859.62,175.74 859.8,264.87 859.99,213.88 860.17,282.02 860.36,207.9 860.54,211.07 860.73,240.13 860.91,199.29 861.1,295.13 861.28,246.02 861.47,210.28 861.65,252.3 861.84,252.92 862.02,230.06 862.21,228.7 862.39,213.35 862.58,224.42 862.76,212.82 862.95,230.42 863.13,251.98 863.32,247.8 863.5,235.48 863.69,208.93 863.87,253.89 864.06,223.05 864.24,251.63 864.43,244.07 864.61,199.06 864.8,214.17 864.98,271.57 865.17,229.02 865.35,209.24 865.54,167.82 865.72,213.18 865.91,258.65 866.09,233.4 866.28,222.22 866.46,207.31 866.65,228.64 866.83,267.7 867.02,227.25 867.2,238.01 867.39,229.88 867.57,218.59 867.76,270.9 867.94,264.68 868.13,212.65 868.31,258.4 868.5,247.65 868.68,229.47 868.87,235.26 869.05,258.89 869.24,253.51 869.42,278.83 869.61,237.7 869.79,236.05 869.98,259.75 870.16,262.59 870.35,257.09 870.53,228.52 870.72,259.48 870.9,234.77 871.09,243.19 871.27,225.48 871.46,229.62"/>
<text x="235.8" y="40.3" font-size="22.4" fill="#2a2a2a" textLength="110.1" lengthAdjust="spacingAndGlyphs" font-weight="bold" stroke="#2a2a2a" stroke-width="0.45">Hashrate</text>
<text x="353.5" y="40.3" font-size="22.4" fill="#2a2a2a" textLength="45" lengthAdjust="spacingAndGlyphs" font-weight="bold" stroke="#2a2a2a" stroke-width="0.45">Net</text>
<text x="406.1" y="40.3" font-size="22.4" fill="#2a2a2a" textLength="95.5" lengthAdjust="spacingAndGlyphs" font-weight="bold" stroke="#2a2a2a" stroke-width="0.45">Position</text>
<text x="508.1" y="40.3" font-size="22.4" fill="#2a2a2a" textLength="92.6" lengthAdjust="spacingAndGlyphs" font-weight="bold" stroke="#2a2a2a" stroke-width="0.45">Change</text>
<text x="608.2" y="40.3" font-size="22.4" fill="#2a2a2a" textLength="107.5" lengthAdjust="spacingAndGlyphs" font-weight="bold" stroke="#2a2a2a" stroke-width="0.45">(30-day)</text>
<rect x="76.5" y="43" width="58.3" height="22" rx="1.5" fill="#fefefe" stroke="#f4f4f4" stroke-width="1"/>
<text x="84.6" y="56.4" font-size="8.9" fill="#444" textLength="30.2" lengthAdjust="spacingAndGlyphs" stroke="#444" stroke-width="0.1">Info On</text>
<polygon points="124.9,50.2 131.2,50.2 128.05,56.1" fill="#222"/>
<rect x="826.8" y="43" width="86" height="22" rx="1.5" fill="#fefefe" stroke="#f4f4f4" stroke-width="1"/>
<text x="834.9" y="56.4" font-size="8.9" fill="#444" textLength="55.1" lengthAdjust="spacingAndGlyphs" stroke="#444" stroke-width="0.1">Default Zoom</text>
<polygon points="903,50.2 909.2,50.2 906.1,56.1" fill="#222"/>
<line x1="174.3" x2="192.6" y1="70.4" y2="70.4" stroke="#555" stroke-width="1.2"/>
<line x1="230.2" x2="250.2" y1="70.4" y2="70.4" stroke="#fdc3d0" stroke-width="4"/>
<line x1="400.4" x2="419.8" y1="70.4" y2="70.4" stroke="#f7931a" stroke-width="1.3" stroke-opacity="0.5"/>
<line x1="482.8" x2="502.7" y1="70.4" y2="70.4" stroke="#39d796" stroke-width="4"/>
<line x1="634.5" x2="653.7" y1="70.4" y2="70.4" stroke="#f4456e" stroke-width="4"/>
<text x="197.5" y="74.3" font-size="10.6" fill="#444" textLength="25.5" lengthAdjust="spacingAndGlyphs" stroke="#444" stroke-width="0.18">Price</text>
<text x="254.8" y="74.3" font-size="10.6" fill="#444" textLength="137.9" lengthAdjust="spacingAndGlyphs" stroke="#444" stroke-width="0.18">Hash Ribbon Capitulation</text>
<text x="424.2" y="74.3" font-size="10.6" fill="#444" textLength="51.2" lengthAdjust="spacingAndGlyphs" stroke="#444" stroke-width="0.18">HashRate</text>
<text x="507" y="74.3" font-size="10.6" fill="#444" textLength="120.2" lengthAdjust="spacingAndGlyphs" stroke="#444" stroke-width="0.18">Hashrate Change +ve</text>
<text x="658" y="74.3" font-size="10.6" fill="#444" textLength="120" lengthAdjust="spacingAndGlyphs" stroke="#444" stroke-width="0.18">Hashrate Change +ve</text>
<text x="39.4" y="537.9" font-size="10.2" fill="#222" textLength="18" lengthAdjust="spacingAndGlyphs" stroke="#222" stroke-width="0.36">$10</text>
<text x="33.2" y="432.65" font-size="10.2" fill="#222" textLength="24.2" lengthAdjust="spacingAndGlyphs" stroke="#222" stroke-width="0.36">$100</text>
<text x="27.4" y="327.4" font-size="10.2" fill="#222" textLength="30" lengthAdjust="spacingAndGlyphs" stroke="#222" stroke-width="0.36">$1000</text>
<text x="33.6" y="222.15" font-size="10.2" fill="#222" textLength="23.8" lengthAdjust="spacingAndGlyphs" stroke="#222" stroke-width="0.36">$10k</text>
<text x="26.9" y="116.9" font-size="10.2" fill="#222" textLength="30.5" lengthAdjust="spacingAndGlyphs" stroke="#222" stroke-width="0.36">$100k</text>
<text x="53.2" y="505.62" font-size="8.8" fill="#222" textLength="4.4" lengthAdjust="spacingAndGlyphs" stroke="#222" stroke-width="0.12">2</text>
<text x="53.2" y="463.73" font-size="8.8" fill="#222" textLength="4.4" lengthAdjust="spacingAndGlyphs" stroke="#222" stroke-width="0.12">5</text>
<text x="53.2" y="400.37" font-size="8.8" fill="#222" textLength="4.4" lengthAdjust="spacingAndGlyphs" stroke="#222" stroke-width="0.12">2</text>
<text x="53.2" y="358.48" font-size="8.8" fill="#222" textLength="4.4" lengthAdjust="spacingAndGlyphs" stroke="#222" stroke-width="0.12">5</text>
<text x="53.2" y="295.12" font-size="8.8" fill="#222" textLength="4.4" lengthAdjust="spacingAndGlyphs" stroke="#222" stroke-width="0.12">2</text>
<text x="53.2" y="253.23" font-size="8.8" fill="#222" textLength="4.4" lengthAdjust="spacingAndGlyphs" stroke="#222" stroke-width="0.12">5</text>
<text x="53.2" y="189.87" font-size="8.8" fill="#222" textLength="4.4" lengthAdjust="spacingAndGlyphs" stroke="#222" stroke-width="0.12">2</text>
<text x="53.2" y="147.98" font-size="8.8" fill="#222" textLength="4.4" lengthAdjust="spacingAndGlyphs" stroke="#222" stroke-width="0.12">5</text>
<text x="53.2" y="84.62" font-size="8.8" fill="#222" textLength="4.4" lengthAdjust="spacingAndGlyphs" stroke="#222" stroke-width="0.12">2</text>
<text transform="translate(17.7,308) rotate(-90)" text-anchor="middle" font-size="12.6" fill="#111" stroke="#111" stroke-width="0.2" textLength="70" lengthAdjust="spacingAndGlyphs">Price [USD]</text>
<text x="39.25" y="550.1" font-size="10.2" fill="#444" textLength="49.1" lengthAdjust="spacingAndGlyphs" stroke="#444" stroke-width="0.36">01-Jan-14</text>
<text x="173.29" y="550.1" font-size="10.2" fill="#444" textLength="49.1" lengthAdjust="spacingAndGlyphs" stroke="#444" stroke-width="0.36">01-Jan-16</text>
<text x="307.33" y="550.1" font-size="10.2" fill="#444" textLength="49.1" lengthAdjust="spacingAndGlyphs" stroke="#444" stroke-width="0.36">01-Jan-18</text>
<text x="441.37" y="550.1" font-size="10.2" fill="#444" textLength="49.1" lengthAdjust="spacingAndGlyphs" stroke="#444" stroke-width="0.36">01-Jan-20</text>
<text x="575.41" y="550.1" font-size="10.2" fill="#444" textLength="49.1" lengthAdjust="spacingAndGlyphs" stroke="#444" stroke-width="0.36">01-Jan-22</text>
<text x="709.45" y="550.1" font-size="10.2" fill="#444" textLength="49.1" lengthAdjust="spacingAndGlyphs" stroke="#444" stroke-width="0.36">01-Jan-24</text>
<text x="843.49" y="550.1" font-size="10.2" fill="#444" textLength="49.1" lengthAdjust="spacingAndGlyphs" stroke="#444" stroke-width="0.36">01-Jan-26</text>
<text x="890.7" y="538.3" font-size="10.2" fill="#f7931a" textLength="6" lengthAdjust="spacingAndGlyphs" stroke="#f7931a" stroke-width="0.36">0</text>
<text x="891" y="480.85" font-size="10.2" fill="#f7931a" stroke="#f7931a" stroke-width="0.36" textLength="43.8" lengthAdjust="spacingAndGlyphs">0.2×10<tspan font-size="7" dy="-3.7">21</tspan></text>
<text x="891" y="423.4" font-size="10.2" fill="#f7931a" stroke="#f7931a" stroke-width="0.36" textLength="43.8" lengthAdjust="spacingAndGlyphs">0.4×10<tspan font-size="7" dy="-3.7">21</tspan></text>
<text x="891" y="365.95" font-size="10.2" fill="#f7931a" stroke="#f7931a" stroke-width="0.36" textLength="43.8" lengthAdjust="spacingAndGlyphs">0.6×10<tspan font-size="7" dy="-3.7">21</tspan></text>
<text x="891" y="308.5" font-size="10.2" fill="#f7931a" stroke="#f7931a" stroke-width="0.36" textLength="43.8" lengthAdjust="spacingAndGlyphs">0.8×10<tspan font-size="7" dy="-3.7">21</tspan></text>
<text x="891" y="251.05" font-size="10.2" fill="#f7931a" stroke="#f7931a" stroke-width="0.36" textLength="33.8" lengthAdjust="spacingAndGlyphs">1×10<tspan font-size="7" dy="-3.7">21</tspan></text>
<text x="891" y="193.6" font-size="10.2" fill="#f7931a" stroke="#f7931a" stroke-width="0.36" textLength="43.8" lengthAdjust="spacingAndGlyphs">1.2×10<tspan font-size="7" dy="-3.7">21</tspan></text>
<text x="891" y="136.15" font-size="10.2" fill="#f7931a" stroke="#f7931a" stroke-width="0.36" textLength="43.8" lengthAdjust="spacingAndGlyphs">1.4×10<tspan font-size="7" dy="-3.7">21</tspan></text>
<text transform="translate(954.8,307.6) rotate(-90)" text-anchor="middle" font-size="12.6" fill="#f7931a" stroke="#f7931a" stroke-width="0.25" textLength="113" lengthAdjust="spacingAndGlyphs">Network HashRate</text>
<text x="957.3" y="538.3" font-size="10.2" fill="#f5527d" textLength="39.4" lengthAdjust="spacingAndGlyphs" stroke="#f5527d" stroke-width="0.36">−50.0%</text>
<text x="957.3" y="447.7" font-size="10.2" fill="#f5527d" textLength="25.3" lengthAdjust="spacingAndGlyphs" stroke="#f5527d" stroke-width="0.36">0.0%</text>
<text x="957.3" y="357.1" font-size="10.2" fill="#f5527d" textLength="31.7" lengthAdjust="spacingAndGlyphs" stroke="#f5527d" stroke-width="0.36">50.0%</text>
<text x="957.3" y="266.5" font-size="10.2" fill="#f5527d" textLength="38" lengthAdjust="spacingAndGlyphs" stroke="#f5527d" stroke-width="0.36">100.0%</text>
<text x="957.3" y="175.9" font-size="10.2" fill="#f5527d" textLength="38" lengthAdjust="spacingAndGlyphs" stroke="#f5527d" stroke-width="0.36">150.0%</text>
<text x="957.3" y="85.3" font-size="10.2" fill="#f5527d" textLength="38" lengthAdjust="spacingAndGlyphs" stroke="#f5527d" stroke-width="0.36">200.0%</text>
<text transform="translate(1015,307.2) rotate(-90)" text-anchor="middle" font-size="12.6" fill="#f5527d" stroke="#f5527d" stroke-width="0.25" textLength="136" lengthAdjust="spacingAndGlyphs">HashRate Change (%)</text>
</svg>
</body></html>
